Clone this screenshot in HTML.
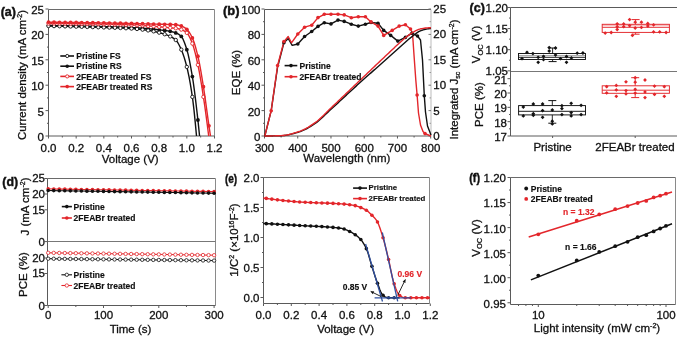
<!DOCTYPE html>
<html><head><meta charset="utf-8"><style>
html,body{margin:0;padding:0;background:#fff;overflow:hidden}
svg{display:block;font-family:"Liberation Sans",sans-serif;will-change:transform}
</style></head><body>
<svg width="677" height="337" viewBox="0 0 677 337">
<rect width="677" height="337" fill="#fff"/>
<line x1="48.5" y1="9.5" x2="214.5" y2="9.5" stroke="#6a6a6a" stroke-width="1"/>
<line x1="214.5" y1="9.5" x2="214.5" y2="136" stroke="#8a8a8a" stroke-width="1"/>
<line x1="48.5" y1="136" x2="214.5" y2="136" stroke="#5a5a5a" stroke-width="1"/>
<line x1="48.5" y1="9.5" x2="48.5" y2="136" stroke="#5a5a5a" stroke-width="1"/>
<text x="0.7" y="16.3" font-size="13.5" text-anchor="start" font-weight="bold" fill="#111" textLength="15.3" lengthAdjust="spacingAndGlyphs" stroke="#111" stroke-width="0.45">(a)</text>
<line x1="45.5" y1="136" x2="48.5" y2="136" stroke="#5a5a5a" stroke-width="1"/>
<text x="44" y="140.9" font-size="11.5" text-anchor="end" fill="#111" stroke="#111" stroke-width="0.3">0</text>
<line x1="45.5" y1="110.6" x2="48.5" y2="110.6" stroke="#5a5a5a" stroke-width="1"/>
<text x="44" y="115.5" font-size="11.5" text-anchor="end" fill="#111" stroke="#111" stroke-width="0.3">5</text>
<line x1="45.5" y1="85.2" x2="48.5" y2="85.2" stroke="#5a5a5a" stroke-width="1"/>
<text x="44" y="90.1" font-size="11.5" text-anchor="end" fill="#111" stroke="#111" stroke-width="0.3">10</text>
<line x1="45.5" y1="59.8" x2="48.5" y2="59.8" stroke="#5a5a5a" stroke-width="1"/>
<text x="44" y="64.7" font-size="11.5" text-anchor="end" fill="#111" stroke="#111" stroke-width="0.3">15</text>
<line x1="45.5" y1="34.4" x2="48.5" y2="34.4" stroke="#5a5a5a" stroke-width="1"/>
<text x="44" y="39.3" font-size="11.5" text-anchor="end" fill="#111" stroke="#111" stroke-width="0.3">20</text>
<line x1="45.5" y1="9" x2="48.5" y2="9" stroke="#5a5a5a" stroke-width="1"/>
<text x="44" y="13.9" font-size="11.5" text-anchor="end" fill="#111" stroke="#111" stroke-width="0.3">25</text>
<line x1="48.5" y1="136" x2="48.5" y2="138.5" stroke="#5a5a5a" stroke-width="1"/>
<text x="48.5" y="151.5" font-size="11.5" text-anchor="middle" fill="#111" stroke="#111" stroke-width="0.3">0.0</text>
<line x1="76.17" y1="136" x2="76.17" y2="138.5" stroke="#5a5a5a" stroke-width="1"/>
<text x="76.17" y="151.5" font-size="11.5" text-anchor="middle" fill="#111" stroke="#111" stroke-width="0.3">0.2</text>
<line x1="103.83" y1="136" x2="103.83" y2="138.5" stroke="#5a5a5a" stroke-width="1"/>
<text x="103.83" y="151.5" font-size="11.5" text-anchor="middle" fill="#111" stroke="#111" stroke-width="0.3">0.4</text>
<line x1="131.5" y1="136" x2="131.5" y2="138.5" stroke="#5a5a5a" stroke-width="1"/>
<text x="131.5" y="151.5" font-size="11.5" text-anchor="middle" fill="#111" stroke="#111" stroke-width="0.3">0.6</text>
<line x1="159.16" y1="136" x2="159.16" y2="138.5" stroke="#5a5a5a" stroke-width="1"/>
<text x="159.16" y="151.5" font-size="11.5" text-anchor="middle" fill="#111" stroke="#111" stroke-width="0.3">0.8</text>
<line x1="186.83" y1="136" x2="186.83" y2="138.5" stroke="#5a5a5a" stroke-width="1"/>
<text x="186.83" y="151.5" font-size="11.5" text-anchor="middle" fill="#111" stroke="#111" stroke-width="0.3">1.0</text>
<line x1="214.5" y1="136" x2="214.5" y2="138.5" stroke="#5a5a5a" stroke-width="1"/>
<text x="214.5" y="151.5" font-size="11.5" text-anchor="middle" fill="#111" stroke="#111" stroke-width="0.3">1.2</text>
<line x1="62.33" y1="136" x2="62.33" y2="137.5" stroke="#5a5a5a" stroke-width="1"/>
<line x1="90" y1="136" x2="90" y2="137.5" stroke="#5a5a5a" stroke-width="1"/>
<line x1="117.67" y1="136" x2="117.67" y2="137.5" stroke="#5a5a5a" stroke-width="1"/>
<line x1="145.33" y1="136" x2="145.33" y2="137.5" stroke="#5a5a5a" stroke-width="1"/>
<line x1="173" y1="136" x2="173" y2="137.5" stroke="#5a5a5a" stroke-width="1"/>
<line x1="200.66" y1="136" x2="200.66" y2="137.5" stroke="#5a5a5a" stroke-width="1"/>
<line x1="47" y1="123.3" x2="48.5" y2="123.3" stroke="#5a5a5a" stroke-width="1"/>
<line x1="47" y1="97.9" x2="48.5" y2="97.9" stroke="#5a5a5a" stroke-width="1"/>
<line x1="47" y1="72.5" x2="48.5" y2="72.5" stroke="#5a5a5a" stroke-width="1"/>
<line x1="47" y1="47.1" x2="48.5" y2="47.1" stroke="#5a5a5a" stroke-width="1"/>
<line x1="47" y1="21.7" x2="48.5" y2="21.7" stroke="#5a5a5a" stroke-width="1"/>
<text x="130.2" y="163.3" font-size="11.5" text-anchor="middle" fill="#111" stroke="#111" stroke-width="0.3">Voltage (V)</text>
<text x="25.5" y="75" font-size="11.5" text-anchor="middle" fill="#111" transform="rotate(-90 25.5 75)" stroke="#111" stroke-width="0.3">Current density (mA cm<tspan dy="-4" font-size="7">-2</tspan><tspan dy="4">)</tspan></text>
<line x1="60.3" y1="56" x2="74" y2="56" stroke="#111" stroke-width="1.6"/>
<circle cx="67.2" cy="56" r="1.6" fill="#fff" stroke="#111" stroke-width="0.9"/>
<text x="76.3" y="59.1" font-size="8.5" text-anchor="start" font-weight="bold" fill="#111" stroke="#111" stroke-width="0.15">Pristine FS</text>
<line x1="60.3" y1="66.2" x2="74" y2="66.2" stroke="#111" stroke-width="1.6"/>
<circle cx="67.2" cy="66.2" r="1.8" fill="#111" stroke="none" stroke-width="0"/>
<text x="76.3" y="69.3" font-size="8.5" text-anchor="start" font-weight="bold" fill="#111" stroke="#111" stroke-width="0.15">Pristine RS</text>
<line x1="60.3" y1="76.4" x2="74" y2="76.4" stroke="#e3262b" stroke-width="1.6"/>
<circle cx="67.2" cy="76.4" r="1.6" fill="#fff" stroke="#e3262b" stroke-width="0.9"/>
<text x="76.3" y="79.5" font-size="8.5" text-anchor="start" font-weight="bold" fill="#111" stroke="#111" stroke-width="0.15">2FEABr treated FS</text>
<line x1="60.3" y1="86.6" x2="74" y2="86.6" stroke="#e3262b" stroke-width="1.6"/>
<circle cx="67.2" cy="86.6" r="1.8" fill="#e3262b" stroke="none" stroke-width="0"/>
<text x="76.3" y="89.7" font-size="8.5" text-anchor="start" font-weight="bold" fill="#111" stroke="#111" stroke-width="0.15">2FEABr treated RS</text>
<polyline points="48.5,25.51 49.77,25.53 51.04,25.54 52.31,25.56 53.58,25.58 54.85,25.59 56.12,25.61 57.39,25.63 58.66,25.65 59.92,25.67 61.19,25.69 62.46,25.71 63.73,25.74 65,25.76 66.27,25.78 67.54,25.8 68.81,25.83 70.08,25.85 71.35,25.88 72.62,25.9 73.89,25.93 75.16,25.95 76.43,25.98 77.7,26 78.97,26.03 80.23,26.06 81.5,26.08 82.77,26.11 84.04,26.14 85.31,26.17 86.58,26.19 87.85,26.22 89.12,26.25 90.39,26.28 91.66,26.31 92.93,26.34 94.2,26.37 95.47,26.4 96.74,26.43 98.01,26.46 99.28,26.49 100.54,26.52 101.81,26.55 103.08,26.58 104.35,26.61 105.62,26.65 106.89,26.68 108.16,26.71 109.43,26.75 110.7,26.79 111.97,26.82 113.24,26.86 114.51,26.9 115.78,26.94 117.05,26.98 118.32,27.02 119.59,27.07 120.85,27.11 122.12,27.16 123.39,27.2 124.66,27.25 125.93,27.3 127.2,27.35 128.47,27.41 129.74,27.46 131.01,27.52 132.28,27.58 133.55,27.64 134.82,27.71 136.09,27.79 137.36,27.87 138.63,27.95 139.9,28.04 141.16,28.14 142.43,28.24 143.7,28.34 144.97,28.44 146.24,28.55 147.51,28.67 148.78,28.78 150.05,28.9 151.32,29.02 152.59,29.15 153.86,29.27 155.13,29.4 156.4,29.54 157.67,29.67 158.94,29.8 160.21,29.94 161.47,30.08 162.74,30.23 164.01,30.39 165.28,30.55 166.55,30.73 167.82,30.93 169.09,31.14 170.36,31.38 171.63,31.64 172.9,31.95 174.17,32.32 175.44,32.75 176.71,33.27 177.98,33.9 179.25,34.69 180.52,35.69 181.79,37.01 183.05,39.19 184.32,42.19 185.59,45.78 186.86,49.74 188.13,54.44 189.4,60.2 190.67,66.8 191.94,74.04 193.21,81.98 194.48,91.2 195.75,101.42 197.02,112.28 198.29,123.55 199.56,136" fill="none" stroke="#111" stroke-width="1.4" stroke-linejoin="round"/>
<circle cx="48.5" cy="25.51" r="1.9" fill="#111" stroke="none" stroke-width="0"/>
<circle cx="54.03" cy="25.58" r="1.9" fill="#111" stroke="none" stroke-width="0"/>
<circle cx="59.57" cy="25.67" r="1.9" fill="#111" stroke="none" stroke-width="0"/>
<circle cx="65.1" cy="25.76" r="1.9" fill="#111" stroke="none" stroke-width="0"/>
<circle cx="70.63" cy="25.86" r="1.9" fill="#111" stroke="none" stroke-width="0"/>
<circle cx="76.17" cy="25.97" r="1.9" fill="#111" stroke="none" stroke-width="0"/>
<circle cx="81.7" cy="26.09" r="1.9" fill="#111" stroke="none" stroke-width="0"/>
<circle cx="87.23" cy="26.21" r="1.9" fill="#111" stroke="none" stroke-width="0"/>
<circle cx="92.77" cy="26.34" r="1.9" fill="#111" stroke="none" stroke-width="0"/>
<circle cx="98.3" cy="26.46" r="1.9" fill="#111" stroke="none" stroke-width="0"/>
<circle cx="103.83" cy="26.6" r="1.9" fill="#111" stroke="none" stroke-width="0"/>
<circle cx="109.37" cy="26.75" r="1.9" fill="#111" stroke="none" stroke-width="0"/>
<circle cx="114.9" cy="26.91" r="1.9" fill="#111" stroke="none" stroke-width="0"/>
<circle cx="120.43" cy="27.09" r="1.9" fill="#111" stroke="none" stroke-width="0"/>
<circle cx="125.96" cy="27.3" r="1.9" fill="#111" stroke="none" stroke-width="0"/>
<circle cx="131.5" cy="27.54" r="1.9" fill="#111" stroke="none" stroke-width="0"/>
<circle cx="137.03" cy="27.85" r="1.9" fill="#111" stroke="none" stroke-width="0"/>
<circle cx="142.56" cy="28.25" r="1.9" fill="#111" stroke="none" stroke-width="0"/>
<circle cx="148.1" cy="28.72" r="1.9" fill="#111" stroke="none" stroke-width="0"/>
<circle cx="153.63" cy="29.25" r="1.9" fill="#111" stroke="none" stroke-width="0"/>
<circle cx="159.16" cy="29.83" r="1.9" fill="#111" stroke="none" stroke-width="0"/>
<circle cx="164.7" cy="30.47" r="1.9" fill="#111" stroke="none" stroke-width="0"/>
<circle cx="170.23" cy="31.35" r="1.9" fill="#111" stroke="none" stroke-width="0"/>
<circle cx="175.76" cy="32.88" r="1.9" fill="#111" stroke="none" stroke-width="0"/>
<circle cx="181.3" cy="36.43" r="1.9" fill="#111" stroke="none" stroke-width="0"/>
<circle cx="186.83" cy="49.64" r="1.9" fill="#111" stroke="none" stroke-width="0"/>
<circle cx="192.36" cy="76.56" r="1.9" fill="#111" stroke="none" stroke-width="0"/>
<circle cx="197.9" cy="120" r="1.9" fill="#111" stroke="none" stroke-width="0"/>
<polyline points="48.5,26.02 49.74,26.04 50.99,26.06 52.23,26.09 53.48,26.11 54.72,26.14 55.96,26.16 57.21,26.19 58.45,26.22 59.69,26.24 60.94,26.27 62.18,26.3 63.43,26.33 64.67,26.36 65.91,26.39 67.16,26.42 68.4,26.45 69.64,26.48 70.89,26.51 72.13,26.54 73.38,26.57 74.62,26.61 75.86,26.64 77.11,26.67 78.35,26.7 79.6,26.74 80.84,26.77 82.08,26.81 83.33,26.84 84.57,26.88 85.81,26.91 87.06,26.95 88.3,26.98 89.55,27.02 90.79,27.06 92.03,27.09 93.28,27.13 94.52,27.16 95.76,27.2 97.01,27.23 98.25,27.27 99.5,27.3 100.74,27.34 101.98,27.37 103.23,27.41 104.47,27.44 105.72,27.48 106.96,27.52 108.2,27.56 109.45,27.6 110.69,27.64 111.93,27.68 113.18,27.72 114.42,27.76 115.67,27.81 116.91,27.86 118.15,27.9 119.4,27.95 120.64,28.01 121.88,28.06 123.13,28.12 124.37,28.18 125.62,28.24 126.86,28.3 128.1,28.37 129.35,28.43 130.59,28.5 131.84,28.58 133.08,28.66 134.32,28.76 135.57,28.86 136.81,28.98 138.05,29.1 139.3,29.24 140.54,29.38 141.79,29.53 143.03,29.69 144.27,29.86 145.52,30.03 146.76,30.21 148,30.4 149.25,30.59 150.49,30.78 151.74,30.99 152.98,31.22 154.22,31.46 155.47,31.73 156.71,32.01 157.96,32.32 159.2,32.64 160.44,32.97 161.69,33.31 162.93,33.68 164.17,34.06 165.42,34.48 166.66,34.92 167.91,35.41 169.15,35.94 170.39,36.51 171.64,37.13 172.88,37.82 174.12,38.64 175.37,39.63 176.61,40.92 177.86,42.74 179.1,44.99 180.34,47.55 181.59,50.3 182.83,53.46 184.08,57.12 185.32,61.26 186.56,65.86 187.81,71.02 189.05,76.95 190.29,83.71 191.54,91.33 192.78,99.93 194.03,110.4 195.27,122.59 196.51,136" fill="none" stroke="#111" stroke-width="1.4" stroke-linejoin="round"/>
<circle cx="48.5" cy="26.02" r="1.7" fill="#fff" stroke="#111" stroke-width="0.9"/>
<circle cx="54.03" cy="26.12" r="1.7" fill="#fff" stroke="#111" stroke-width="0.9"/>
<circle cx="59.57" cy="26.24" r="1.7" fill="#fff" stroke="#111" stroke-width="0.9"/>
<circle cx="65.1" cy="26.37" r="1.7" fill="#fff" stroke="#111" stroke-width="0.9"/>
<circle cx="70.63" cy="26.5" r="1.7" fill="#fff" stroke="#111" stroke-width="0.9"/>
<circle cx="76.17" cy="26.65" r="1.7" fill="#fff" stroke="#111" stroke-width="0.9"/>
<circle cx="81.7" cy="26.8" r="1.7" fill="#fff" stroke="#111" stroke-width="0.9"/>
<circle cx="87.23" cy="26.95" r="1.7" fill="#fff" stroke="#111" stroke-width="0.9"/>
<circle cx="92.77" cy="27.11" r="1.7" fill="#fff" stroke="#111" stroke-width="0.9"/>
<circle cx="98.3" cy="27.27" r="1.7" fill="#fff" stroke="#111" stroke-width="0.9"/>
<circle cx="103.83" cy="27.43" r="1.7" fill="#fff" stroke="#111" stroke-width="0.9"/>
<circle cx="109.37" cy="27.59" r="1.7" fill="#fff" stroke="#111" stroke-width="0.9"/>
<circle cx="114.9" cy="27.78" r="1.7" fill="#fff" stroke="#111" stroke-width="0.9"/>
<circle cx="120.43" cy="28" r="1.7" fill="#fff" stroke="#111" stroke-width="0.9"/>
<circle cx="125.96" cy="28.25" r="1.7" fill="#fff" stroke="#111" stroke-width="0.9"/>
<circle cx="131.5" cy="28.56" r="1.7" fill="#fff" stroke="#111" stroke-width="0.9"/>
<circle cx="137.03" cy="29" r="1.7" fill="#fff" stroke="#111" stroke-width="0.9"/>
<circle cx="142.56" cy="29.63" r="1.7" fill="#fff" stroke="#111" stroke-width="0.9"/>
<circle cx="148.1" cy="30.41" r="1.7" fill="#fff" stroke="#111" stroke-width="0.9"/>
<circle cx="153.63" cy="31.34" r="1.7" fill="#fff" stroke="#111" stroke-width="0.9"/>
<circle cx="159.16" cy="32.63" r="1.7" fill="#fff" stroke="#111" stroke-width="0.9"/>
<circle cx="164.7" cy="34.23" r="1.7" fill="#fff" stroke="#111" stroke-width="0.9"/>
<circle cx="170.23" cy="36.43" r="1.7" fill="#fff" stroke="#111" stroke-width="0.9"/>
<circle cx="175.76" cy="39.99" r="1.7" fill="#fff" stroke="#111" stroke-width="0.9"/>
<circle cx="181.3" cy="49.64" r="1.7" fill="#fff" stroke="#111" stroke-width="0.9"/>
<circle cx="186.83" cy="66.91" r="1.7" fill="#fff" stroke="#111" stroke-width="0.9"/>
<circle cx="192.36" cy="96.88" r="1.7" fill="#fff" stroke="#111" stroke-width="0.9"/>
<polyline points="48.5,23.48 49.85,23.49 51.19,23.5 52.54,23.51 53.88,23.52 55.23,23.53 56.58,23.54 57.92,23.55 59.27,23.57 60.61,23.58 61.96,23.59 63.31,23.61 64.65,23.62 66,23.64 67.35,23.66 68.69,23.67 70.04,23.69 71.38,23.71 72.73,23.72 74.08,23.74 75.42,23.76 76.77,23.78 78.11,23.8 79.46,23.82 80.81,23.84 82.15,23.86 83.5,23.88 84.84,23.9 86.19,23.92 87.54,23.95 88.88,23.97 90.23,23.99 91.58,24.01 92.92,24.03 94.27,24.06 95.61,24.08 96.96,24.11 98.31,24.13 99.65,24.16 101,24.18 102.34,24.21 103.69,24.23 105.04,24.26 106.38,24.29 107.73,24.32 109.07,24.35 110.42,24.38 111.77,24.41 113.11,24.45 114.46,24.48 115.81,24.51 117.15,24.55 118.5,24.59 119.84,24.62 121.19,24.66 122.54,24.7 123.88,24.74 125.23,24.79 126.57,24.83 127.92,24.88 129.27,24.92 130.61,24.97 131.96,25.02 133.3,25.07 134.65,25.13 136,25.2 137.34,25.26 138.69,25.34 140.03,25.41 141.38,25.49 142.73,25.58 144.07,25.67 145.42,25.76 146.77,25.85 148.11,25.94 149.46,26.04 150.8,26.14 152.15,26.24 153.5,26.34 154.84,26.45 156.19,26.55 157.53,26.65 158.88,26.76 160.23,26.87 161.57,26.98 162.92,27.1 164.26,27.23 165.61,27.36 166.96,27.49 168.3,27.62 169.65,27.74 171,27.86 172.34,27.97 173.69,28.08 175.03,28.21 176.38,28.39 177.73,28.64 179.07,28.96 180.42,29.34 181.76,29.79 183.11,30.36 184.46,31.09 185.8,32.02 187.15,33.19 188.49,35.02 189.84,37.56 191.19,40.6 192.53,43.99 193.88,48.13 195.23,53.17 196.57,58.87 197.92,64.98 199.26,71.7 200.61,79.26 201.96,87.44 203.3,96.05 204.65,105.11 205.99,114.83 207.34,125.14 208.69,136" fill="none" stroke="#e3262b" stroke-width="1.4" stroke-linejoin="round"/>
<circle cx="48.5" cy="23.48" r="1.7" fill="#fff" stroke="#e3262b" stroke-width="0.9"/>
<circle cx="54.03" cy="23.52" r="1.7" fill="#fff" stroke="#e3262b" stroke-width="0.9"/>
<circle cx="59.57" cy="23.57" r="1.7" fill="#fff" stroke="#e3262b" stroke-width="0.9"/>
<circle cx="65.1" cy="23.63" r="1.7" fill="#fff" stroke="#e3262b" stroke-width="0.9"/>
<circle cx="70.63" cy="23.7" r="1.7" fill="#fff" stroke="#e3262b" stroke-width="0.9"/>
<circle cx="76.17" cy="23.77" r="1.7" fill="#fff" stroke="#e3262b" stroke-width="0.9"/>
<circle cx="81.7" cy="23.85" r="1.7" fill="#fff" stroke="#e3262b" stroke-width="0.9"/>
<circle cx="87.23" cy="23.94" r="1.7" fill="#fff" stroke="#e3262b" stroke-width="0.9"/>
<circle cx="92.77" cy="24.03" r="1.7" fill="#fff" stroke="#e3262b" stroke-width="0.9"/>
<circle cx="98.3" cy="24.13" r="1.7" fill="#fff" stroke="#e3262b" stroke-width="0.9"/>
<circle cx="103.83" cy="24.24" r="1.7" fill="#fff" stroke="#e3262b" stroke-width="0.9"/>
<circle cx="109.37" cy="24.36" r="1.7" fill="#fff" stroke="#e3262b" stroke-width="0.9"/>
<circle cx="114.9" cy="24.49" r="1.7" fill="#fff" stroke="#e3262b" stroke-width="0.9"/>
<circle cx="120.43" cy="24.64" r="1.7" fill="#fff" stroke="#e3262b" stroke-width="0.9"/>
<circle cx="125.96" cy="24.81" r="1.7" fill="#fff" stroke="#e3262b" stroke-width="0.9"/>
<circle cx="131.5" cy="25" r="1.7" fill="#fff" stroke="#e3262b" stroke-width="0.9"/>
<circle cx="137.03" cy="25.25" r="1.7" fill="#fff" stroke="#e3262b" stroke-width="0.9"/>
<circle cx="142.56" cy="25.57" r="1.7" fill="#fff" stroke="#e3262b" stroke-width="0.9"/>
<circle cx="148.1" cy="25.94" r="1.7" fill="#fff" stroke="#e3262b" stroke-width="0.9"/>
<circle cx="153.63" cy="26.35" r="1.7" fill="#fff" stroke="#e3262b" stroke-width="0.9"/>
<circle cx="159.16" cy="26.78" r="1.7" fill="#fff" stroke="#e3262b" stroke-width="0.9"/>
<circle cx="164.7" cy="27.27" r="1.7" fill="#fff" stroke="#e3262b" stroke-width="0.9"/>
<circle cx="170.23" cy="27.8" r="1.7" fill="#fff" stroke="#e3262b" stroke-width="0.9"/>
<circle cx="175.76" cy="28.3" r="1.7" fill="#fff" stroke="#e3262b" stroke-width="0.9"/>
<circle cx="181.3" cy="29.62" r="1.7" fill="#fff" stroke="#e3262b" stroke-width="0.9"/>
<circle cx="186.83" cy="32.88" r="1.7" fill="#fff" stroke="#e3262b" stroke-width="0.9"/>
<circle cx="192.36" cy="43.54" r="1.7" fill="#fff" stroke="#e3262b" stroke-width="0.9"/>
<circle cx="197.9" cy="64.88" r="1.7" fill="#fff" stroke="#e3262b" stroke-width="0.9"/>
<circle cx="203.43" cy="96.88" r="1.7" fill="#fff" stroke="#e3262b" stroke-width="0.9"/>
<polyline points="48.5,22.21 49.86,22.22 51.22,22.23 52.58,22.25 53.94,22.26 55.31,22.27 56.67,22.29 58.03,22.3 59.39,22.32 60.75,22.33 62.11,22.35 63.47,22.36 64.83,22.38 66.2,22.4 67.56,22.41 68.92,22.43 70.28,22.45 71.64,22.46 73,22.48 74.36,22.5 75.72,22.52 77.09,22.53 78.45,22.55 79.81,22.57 81.17,22.59 82.53,22.61 83.89,22.63 85.25,22.65 86.61,22.67 87.98,22.69 89.34,22.71 90.7,22.73 92.06,22.75 93.42,22.77 94.78,22.79 96.14,22.81 97.5,22.83 98.86,22.85 100.23,22.87 101.59,22.9 102.95,22.92 104.31,22.94 105.67,22.97 107.03,22.99 108.39,23.01 109.75,23.04 111.12,23.06 112.48,23.09 113.84,23.11 115.2,23.14 116.56,23.17 117.92,23.19 119.28,23.22 120.64,23.25 122.01,23.28 123.37,23.3 124.73,23.33 126.09,23.36 127.45,23.39 128.81,23.42 130.17,23.45 131.53,23.48 132.9,23.51 134.26,23.54 135.62,23.58 136.98,23.61 138.34,23.65 139.7,23.69 141.06,23.73 142.42,23.77 143.78,23.81 145.15,23.85 146.51,23.89 147.87,23.93 149.23,23.97 150.59,24.01 151.95,24.05 153.31,24.08 154.67,24.12 156.04,24.16 157.4,24.2 158.76,24.23 160.12,24.26 161.48,24.29 162.84,24.32 164.2,24.35 165.56,24.38 166.93,24.41 168.29,24.44 169.65,24.48 171.01,24.52 172.37,24.57 173.73,24.62 175.09,24.7 176.45,24.82 177.82,25.05 179.18,25.37 180.54,25.77 181.9,26.23 183.26,26.85 184.62,27.65 185.98,28.62 187.34,29.8 188.71,31.44 190.07,33.54 191.43,36.04 192.79,38.91 194.15,42.57 195.51,47.03 196.87,52.11 198.23,57.68 199.59,64.23 200.96,71.74 202.32,79.86 203.68,88.29 205.04,97.47 206.4,107.35 207.76,117.35 209.12,126.93 210.48,136" fill="none" stroke="#e3262b" stroke-width="1.4" stroke-linejoin="round"/>
<circle cx="48.5" cy="22.21" r="1.9" fill="#e3262b" stroke="none" stroke-width="0"/>
<circle cx="54.03" cy="22.26" r="1.9" fill="#e3262b" stroke="none" stroke-width="0"/>
<circle cx="59.57" cy="22.32" r="1.9" fill="#e3262b" stroke="none" stroke-width="0"/>
<circle cx="65.1" cy="22.38" r="1.9" fill="#e3262b" stroke="none" stroke-width="0"/>
<circle cx="70.63" cy="22.45" r="1.9" fill="#e3262b" stroke="none" stroke-width="0"/>
<circle cx="76.17" cy="22.52" r="1.9" fill="#e3262b" stroke="none" stroke-width="0"/>
<circle cx="81.7" cy="22.6" r="1.9" fill="#e3262b" stroke="none" stroke-width="0"/>
<circle cx="87.23" cy="22.68" r="1.9" fill="#e3262b" stroke="none" stroke-width="0"/>
<circle cx="92.77" cy="22.76" r="1.9" fill="#e3262b" stroke="none" stroke-width="0"/>
<circle cx="98.3" cy="22.84" r="1.9" fill="#e3262b" stroke="none" stroke-width="0"/>
<circle cx="103.83" cy="22.94" r="1.9" fill="#e3262b" stroke="none" stroke-width="0"/>
<circle cx="109.37" cy="23.03" r="1.9" fill="#e3262b" stroke="none" stroke-width="0"/>
<circle cx="114.9" cy="23.13" r="1.9" fill="#e3262b" stroke="none" stroke-width="0"/>
<circle cx="120.43" cy="23.24" r="1.9" fill="#e3262b" stroke="none" stroke-width="0"/>
<circle cx="125.96" cy="23.36" r="1.9" fill="#e3262b" stroke="none" stroke-width="0"/>
<circle cx="131.5" cy="23.48" r="1.9" fill="#e3262b" stroke="none" stroke-width="0"/>
<circle cx="137.03" cy="23.61" r="1.9" fill="#e3262b" stroke="none" stroke-width="0"/>
<circle cx="142.56" cy="23.77" r="1.9" fill="#e3262b" stroke="none" stroke-width="0"/>
<circle cx="148.1" cy="23.93" r="1.9" fill="#e3262b" stroke="none" stroke-width="0"/>
<circle cx="153.63" cy="24.09" r="1.9" fill="#e3262b" stroke="none" stroke-width="0"/>
<circle cx="159.16" cy="24.24" r="1.9" fill="#e3262b" stroke="none" stroke-width="0"/>
<circle cx="164.7" cy="24.36" r="1.9" fill="#e3262b" stroke="none" stroke-width="0"/>
<circle cx="170.23" cy="24.49" r="1.9" fill="#e3262b" stroke="none" stroke-width="0"/>
<circle cx="175.76" cy="24.75" r="1.9" fill="#e3262b" stroke="none" stroke-width="0"/>
<circle cx="181.3" cy="26.02" r="1.9" fill="#e3262b" stroke="none" stroke-width="0"/>
<circle cx="186.83" cy="29.32" r="1.9" fill="#e3262b" stroke="none" stroke-width="0"/>
<circle cx="192.36" cy="37.96" r="1.9" fill="#e3262b" stroke="none" stroke-width="0"/>
<circle cx="197.9" cy="56.24" r="1.9" fill="#e3262b" stroke="none" stroke-width="0"/>
<circle cx="203.43" cy="86.72" r="1.9" fill="#e3262b" stroke="none" stroke-width="0"/>
<circle cx="208.96" cy="125.84" r="1.9" fill="#e3262b" stroke="none" stroke-width="0"/>
<line x1="264.5" y1="9.5" x2="431" y2="9.5" stroke="#5a5a5a" stroke-width="1"/>
<line x1="264.5" y1="136" x2="431" y2="136" stroke="#5a5a5a" stroke-width="1"/>
<line x1="264.5" y1="9.5" x2="264.5" y2="136" stroke="#5a5a5a" stroke-width="1"/>
<line x1="431" y1="9.5" x2="431" y2="136" stroke="#bbb" stroke-width="1"/>
<text x="223" y="15.2" font-size="13.5" text-anchor="start" font-weight="bold" fill="#111" textLength="16.5" lengthAdjust="spacingAndGlyphs" stroke="#111" stroke-width="0.45">(b)</text>
<line x1="261.5" y1="136" x2="264.5" y2="136" stroke="#5a5a5a" stroke-width="1"/>
<text x="260.5" y="140.9" font-size="11.5" text-anchor="end" fill="#111" stroke="#111" stroke-width="0.3">0</text>
<line x1="261.5" y1="110.6" x2="264.5" y2="110.6" stroke="#5a5a5a" stroke-width="1"/>
<text x="260.5" y="115.5" font-size="11.5" text-anchor="end" fill="#111" stroke="#111" stroke-width="0.3">20</text>
<line x1="261.5" y1="85.2" x2="264.5" y2="85.2" stroke="#5a5a5a" stroke-width="1"/>
<text x="260.5" y="90.1" font-size="11.5" text-anchor="end" fill="#111" stroke="#111" stroke-width="0.3">40</text>
<line x1="261.5" y1="59.8" x2="264.5" y2="59.8" stroke="#5a5a5a" stroke-width="1"/>
<text x="260.5" y="64.7" font-size="11.5" text-anchor="end" fill="#111" stroke="#111" stroke-width="0.3">60</text>
<line x1="261.5" y1="34.4" x2="264.5" y2="34.4" stroke="#5a5a5a" stroke-width="1"/>
<text x="260.5" y="39.3" font-size="11.5" text-anchor="end" fill="#111" stroke="#111" stroke-width="0.3">80</text>
<line x1="261.5" y1="9" x2="264.5" y2="9" stroke="#5a5a5a" stroke-width="1"/>
<text x="260.5" y="13.9" font-size="11.5" text-anchor="end" fill="#111" stroke="#111" stroke-width="0.3">100</text>
<line x1="263" y1="123.3" x2="264.5" y2="123.3" stroke="#5a5a5a" stroke-width="1"/>
<line x1="263" y1="97.9" x2="264.5" y2="97.9" stroke="#5a5a5a" stroke-width="1"/>
<line x1="263" y1="72.5" x2="264.5" y2="72.5" stroke="#5a5a5a" stroke-width="1"/>
<line x1="263" y1="47.1" x2="264.5" y2="47.1" stroke="#5a5a5a" stroke-width="1"/>
<line x1="263" y1="21.7" x2="264.5" y2="21.7" stroke="#5a5a5a" stroke-width="1"/>
<line x1="428.5" y1="136" x2="431" y2="136" stroke="#777" stroke-width="1"/>
<text x="433.3" y="139.9" font-size="11.5" text-anchor="start" fill="#111" stroke="#111" stroke-width="0.3">0</text>
<line x1="428.5" y1="110.6" x2="431" y2="110.6" stroke="#777" stroke-width="1"/>
<text x="433.3" y="114.5" font-size="11.5" text-anchor="start" fill="#111" stroke="#111" stroke-width="0.3">5</text>
<line x1="428.5" y1="85.2" x2="431" y2="85.2" stroke="#777" stroke-width="1"/>
<text x="433.3" y="89.1" font-size="11.5" text-anchor="start" fill="#111" stroke="#111" stroke-width="0.3">10</text>
<line x1="428.5" y1="59.8" x2="431" y2="59.8" stroke="#777" stroke-width="1"/>
<text x="433.3" y="63.7" font-size="11.5" text-anchor="start" fill="#111" stroke="#111" stroke-width="0.3">15</text>
<line x1="428.5" y1="34.4" x2="431" y2="34.4" stroke="#777" stroke-width="1"/>
<text x="433.3" y="38.3" font-size="11.5" text-anchor="start" fill="#111" stroke="#111" stroke-width="0.3">20</text>
<line x1="428.5" y1="9" x2="431" y2="9" stroke="#777" stroke-width="1"/>
<text x="433.3" y="12.9" font-size="11.5" text-anchor="start" fill="#111" stroke="#111" stroke-width="0.3">25</text>
<line x1="429.5" y1="123.3" x2="431" y2="123.3" stroke="#999" stroke-width="1"/>
<line x1="429.5" y1="97.9" x2="431" y2="97.9" stroke="#999" stroke-width="1"/>
<line x1="429.5" y1="72.5" x2="431" y2="72.5" stroke="#999" stroke-width="1"/>
<line x1="429.5" y1="47.1" x2="431" y2="47.1" stroke="#999" stroke-width="1"/>
<line x1="429.5" y1="21.7" x2="431" y2="21.7" stroke="#999" stroke-width="1"/>
<line x1="264.5" y1="136" x2="264.5" y2="138.5" stroke="#5a5a5a" stroke-width="1"/>
<text x="264.5" y="151.5" font-size="11.5" text-anchor="middle" fill="#111" stroke="#111" stroke-width="0.3">300</text>
<line x1="297.74" y1="136" x2="297.74" y2="138.5" stroke="#5a5a5a" stroke-width="1"/>
<text x="297.74" y="151.5" font-size="11.5" text-anchor="middle" fill="#111" stroke="#111" stroke-width="0.3">400</text>
<line x1="330.98" y1="136" x2="330.98" y2="138.5" stroke="#5a5a5a" stroke-width="1"/>
<text x="330.98" y="151.5" font-size="11.5" text-anchor="middle" fill="#111" stroke="#111" stroke-width="0.3">500</text>
<line x1="364.22" y1="136" x2="364.22" y2="138.5" stroke="#5a5a5a" stroke-width="1"/>
<text x="364.22" y="151.5" font-size="11.5" text-anchor="middle" fill="#111" stroke="#111" stroke-width="0.3">600</text>
<line x1="397.46" y1="136" x2="397.46" y2="138.5" stroke="#5a5a5a" stroke-width="1"/>
<text x="397.46" y="151.5" font-size="11.5" text-anchor="middle" fill="#111" stroke="#111" stroke-width="0.3">700</text>
<line x1="430.7" y1="136" x2="430.7" y2="138.5" stroke="#5a5a5a" stroke-width="1"/>
<text x="430.7" y="151.5" font-size="11.5" text-anchor="middle" fill="#111" stroke="#111" stroke-width="0.3">800</text>
<line x1="281.12" y1="136" x2="281.12" y2="137.5" stroke="#5a5a5a" stroke-width="1"/>
<line x1="314.36" y1="136" x2="314.36" y2="137.5" stroke="#5a5a5a" stroke-width="1"/>
<line x1="347.6" y1="136" x2="347.6" y2="137.5" stroke="#5a5a5a" stroke-width="1"/>
<line x1="380.84" y1="136" x2="380.84" y2="137.5" stroke="#5a5a5a" stroke-width="1"/>
<line x1="414.08" y1="136" x2="414.08" y2="137.5" stroke="#5a5a5a" stroke-width="1"/>
<text x="346.8" y="162.4" font-size="11.5" text-anchor="middle" fill="#111" stroke="#111" stroke-width="0.3">Wavelength (nm)</text>
<text x="240" y="72.5" font-size="11.5" text-anchor="middle" fill="#111" transform="rotate(-90 240 72.5)" stroke="#111" stroke-width="0.3">EQE (%)</text>
<text x="457.5" y="79.5" font-size="11.5" text-anchor="middle" fill="#111" transform="rotate(-90 457.5 79.5)" stroke="#111" stroke-width="0.3">Integrated J<tspan dy="2" font-size="7">sc</tspan><tspan dy="-2"> (mA cm</tspan><tspan dy="-4" font-size="7">-2</tspan><tspan dy="4">)</tspan></text>
<polyline points="264.8,136 271.2,110.7 277.6,67 283.9,42.8 288.2,38.5 292.2,45.4 297.8,44 304.6,36.5 311.7,31.5 318,26.4 324.3,22.7 331,23.9 338,20.1 344.2,21.4 351.3,24.2 358.3,26.1 365.4,24.2 371,22.5 378,23.3 383.7,30.4 390.7,35.4 397.8,41.1 405.4,37.4 411.9,33.2 417.5,36 420.5,40 422.5,60 424.3,95.7 425.5,112 427.5,126 431,135" fill="none" stroke="#111" stroke-width="1.4" stroke-linejoin="round"/>
<polyline points="264.8,136 271.2,110.7 277.6,65.5 283.9,41.6 288.2,36.5 291.5,42.8 297.8,34 304.6,27.2 311.7,25.2 318,17.6 324.3,14.3 331,14.3 338,14.3 344.2,14.9 351.3,17.7 358.3,16.8 365.4,16.8 371,21.9 378,26.1 383.7,35.4 392.2,30.4 399.2,26.1 405.4,24.7 410.5,29 412.5,33 414,55 415.8,80 417.1,95 418.5,113 420.5,125 423,131.5 425,133.6 431,136" fill="none" stroke="#e3262b" stroke-width="1.4" stroke-linejoin="round"/>
<circle cx="283.9" cy="42.8" r="1.8" fill="#111" stroke="none" stroke-width="0"/>
<circle cx="297.8" cy="44" r="1.8" fill="#111" stroke="none" stroke-width="0"/>
<circle cx="304.6" cy="36.5" r="1.8" fill="#111" stroke="none" stroke-width="0"/>
<circle cx="311.7" cy="31.5" r="1.8" fill="#111" stroke="none" stroke-width="0"/>
<circle cx="318" cy="26.4" r="1.8" fill="#111" stroke="none" stroke-width="0"/>
<circle cx="324.3" cy="22.7" r="1.8" fill="#111" stroke="none" stroke-width="0"/>
<circle cx="331" cy="23.9" r="1.8" fill="#111" stroke="none" stroke-width="0"/>
<circle cx="338" cy="20.1" r="1.8" fill="#111" stroke="none" stroke-width="0"/>
<circle cx="344.2" cy="21.4" r="1.8" fill="#111" stroke="none" stroke-width="0"/>
<circle cx="351.3" cy="24.2" r="1.8" fill="#111" stroke="none" stroke-width="0"/>
<circle cx="358.3" cy="26.1" r="1.8" fill="#111" stroke="none" stroke-width="0"/>
<circle cx="365.4" cy="24.2" r="1.8" fill="#111" stroke="none" stroke-width="0"/>
<circle cx="371" cy="22.5" r="1.8" fill="#111" stroke="none" stroke-width="0"/>
<circle cx="378" cy="23.3" r="1.8" fill="#111" stroke="none" stroke-width="0"/>
<circle cx="383.7" cy="30.4" r="1.8" fill="#111" stroke="none" stroke-width="0"/>
<circle cx="390.7" cy="35.4" r="1.8" fill="#111" stroke="none" stroke-width="0"/>
<circle cx="397.8" cy="41.1" r="1.8" fill="#111" stroke="none" stroke-width="0"/>
<circle cx="405.4" cy="37.4" r="1.8" fill="#111" stroke="none" stroke-width="0"/>
<circle cx="411.9" cy="33.2" r="1.8" fill="#111" stroke="none" stroke-width="0"/>
<circle cx="417.5" cy="36" r="1.8" fill="#111" stroke="none" stroke-width="0"/>
<circle cx="424.3" cy="95.7" r="1.8" fill="#111" stroke="none" stroke-width="0"/>
<circle cx="271.2" cy="110.7" r="1.8" fill="#e3262b" stroke="none" stroke-width="0"/>
<circle cx="277.6" cy="65.5" r="1.8" fill="#e3262b" stroke="none" stroke-width="0"/>
<circle cx="283.9" cy="41.6" r="1.8" fill="#e3262b" stroke="none" stroke-width="0"/>
<circle cx="297.8" cy="34" r="1.8" fill="#e3262b" stroke="none" stroke-width="0"/>
<circle cx="304.6" cy="27.2" r="1.8" fill="#e3262b" stroke="none" stroke-width="0"/>
<circle cx="311.7" cy="25.2" r="1.8" fill="#e3262b" stroke="none" stroke-width="0"/>
<circle cx="318" cy="17.6" r="1.8" fill="#e3262b" stroke="none" stroke-width="0"/>
<circle cx="324.3" cy="14.3" r="1.8" fill="#e3262b" stroke="none" stroke-width="0"/>
<circle cx="331" cy="14.3" r="1.8" fill="#e3262b" stroke="none" stroke-width="0"/>
<circle cx="338" cy="14.3" r="1.8" fill="#e3262b" stroke="none" stroke-width="0"/>
<circle cx="344.2" cy="14.9" r="1.8" fill="#e3262b" stroke="none" stroke-width="0"/>
<circle cx="351.3" cy="17.7" r="1.8" fill="#e3262b" stroke="none" stroke-width="0"/>
<circle cx="358.3" cy="16.8" r="1.8" fill="#e3262b" stroke="none" stroke-width="0"/>
<circle cx="365.4" cy="16.8" r="1.8" fill="#e3262b" stroke="none" stroke-width="0"/>
<circle cx="371" cy="21.9" r="1.8" fill="#e3262b" stroke="none" stroke-width="0"/>
<circle cx="378" cy="26.1" r="1.8" fill="#e3262b" stroke="none" stroke-width="0"/>
<circle cx="383.7" cy="35.4" r="1.8" fill="#e3262b" stroke="none" stroke-width="0"/>
<circle cx="392.2" cy="30.4" r="1.8" fill="#e3262b" stroke="none" stroke-width="0"/>
<circle cx="399.2" cy="26.1" r="1.8" fill="#e3262b" stroke="none" stroke-width="0"/>
<circle cx="405.4" cy="24.7" r="1.8" fill="#e3262b" stroke="none" stroke-width="0"/>
<circle cx="410.5" cy="29" r="1.8" fill="#e3262b" stroke="none" stroke-width="0"/>
<circle cx="417.1" cy="95" r="1.8" fill="#e3262b" stroke="none" stroke-width="0"/>
<circle cx="425" cy="133.6" r="1.8" fill="#e3262b" stroke="none" stroke-width="0"/>
<polyline points="264.5,136 265.62,136 266.73,135.99 267.85,135.99 268.97,135.98 270.09,135.96 271.2,135.95 272.32,135.93 273.44,135.91 274.56,135.89 275.67,135.86 276.79,135.83 277.91,135.8 279.03,135.77 280.14,135.74 281.26,135.7 282.38,135.65 283.5,135.57 284.61,135.45 285.73,135.3 286.85,135.12 287.97,134.92 289.08,134.69 290.2,134.43 291.32,134.16 292.44,133.87 293.55,133.56 294.67,133.24 295.79,132.91 296.91,132.57 298.02,132.23 299.14,131.87 300.26,131.52 301.38,131.12 302.49,130.69 303.61,130.2 304.73,129.68 305.85,129.12 306.96,128.52 308.08,127.89 309.2,127.23 310.32,126.55 311.43,125.85 312.55,125.12 313.67,124.38 314.79,123.63 315.9,122.87 317.02,122.07 318.14,121.21 319.26,120.28 320.37,119.31 321.49,118.3 322.61,117.26 323.72,116.2 324.84,115.12 325.96,114.03 327.08,112.95 328.19,111.88 329.31,110.83 330.43,109.81 331.55,108.79 332.66,107.77 333.78,106.75 334.9,105.72 336.02,104.69 337.13,103.66 338.25,102.63 339.37,101.6 340.49,100.56 341.6,99.53 342.72,98.49 343.84,97.46 344.96,96.42 346.07,95.38 347.19,94.35 348.31,93.31 349.43,92.28 350.54,91.25 351.66,90.22 352.78,89.19 353.9,88.16 355.01,87.14 356.13,86.11 357.25,85.1 358.37,84.08 359.48,83.07 360.6,82.06 361.72,81.05 362.84,80.05 363.95,79.05 365.07,78.05 366.19,77.06 367.31,76.06 368.42,75.07 369.54,74.08 370.66,73.1 371.78,72.11 372.89,71.12 374.01,70.14 375.13,69.16 376.24,68.17 377.36,67.19 378.48,66.2 379.6,65.22 380.71,64.23 381.83,63.25 382.95,62.26 384.07,61.27 385.18,60.29 386.3,59.29 387.42,58.3 388.54,57.31 389.65,56.31 390.77,55.31 391.89,54.3 393.01,53.29 394.12,52.28 395.24,51.27 396.36,50.26 397.48,49.25 398.59,48.25 399.71,47.26 400.83,46.26 401.95,45.26 403.06,44.25 404.18,43.24 405.3,42.24 406.42,41.25 407.53,40.27 408.65,39.32 409.77,38.4 410.89,37.51 412,36.63 413.12,35.72 414.24,34.82 415.36,33.94 416.47,33.11 417.59,32.35 418.71,31.68 419.83,31.12 420.94,30.66 422.06,30.25 423.18,29.88 424.3,29.57 425.41,29.31 426.53,29.11 427.65,28.93 428.77,28.78 429.88,28.67 431,28.6" fill="none" stroke="#111" stroke-width="1.4" stroke-linejoin="round"/>
<polyline points="264.5,136 265.62,136 266.73,135.99 267.85,135.98 268.97,135.97 270.09,135.95 271.2,135.93 272.32,135.9 273.44,135.88 274.56,135.85 275.67,135.81 276.79,135.78 277.91,135.74 279.03,135.7 280.14,135.65 281.26,135.61 282.38,135.54 283.5,135.45 284.61,135.31 285.73,135.15 286.85,134.96 287.97,134.73 289.08,134.49 290.2,134.22 291.32,133.93 292.44,133.62 293.55,133.29 294.67,132.95 295.79,132.6 296.91,132.23 298.02,131.87 299.14,131.49 300.26,131.11 301.38,130.7 302.49,130.23 303.61,129.72 304.73,129.17 305.85,128.59 306.96,127.96 308.08,127.31 309.2,126.62 310.32,125.91 311.43,125.18 312.55,124.42 313.67,123.65 314.79,122.86 315.9,122.07 317.02,121.24 318.14,120.34 319.26,119.38 320.37,118.37 321.49,117.32 322.61,116.23 323.72,115.13 324.84,114.01 325.96,112.88 327.08,111.75 328.19,110.64 329.31,109.56 330.43,108.49 331.55,107.44 332.66,106.38 333.78,105.32 334.9,104.26 336.02,103.2 337.13,102.14 338.25,101.07 339.37,100.01 340.49,98.94 341.6,97.88 342.72,96.81 343.84,95.74 344.96,94.67 346.07,93.6 347.19,92.54 348.31,91.47 349.43,90.4 350.54,89.33 351.66,88.26 352.78,87.19 353.9,86.12 355.01,85.05 356.13,83.99 357.25,82.92 358.37,81.86 359.48,80.79 360.6,79.73 361.72,78.66 362.84,77.6 363.95,76.53 365.07,75.47 366.19,74.4 367.31,73.34 368.42,72.27 369.54,71.21 370.66,70.14 371.78,69.07 372.89,68.01 374.01,66.94 375.13,65.88 376.24,64.81 377.36,63.75 378.48,62.69 379.6,61.63 380.71,60.57 381.83,59.51 382.95,58.45 384.07,57.39 385.18,56.33 386.3,55.28 387.42,54.23 388.54,53.17 389.65,52.12 390.77,51.07 391.89,50.02 393.01,48.95 394.12,47.89 395.24,46.84 396.36,45.79 397.48,44.76 398.59,43.74 399.71,42.75 400.83,41.77 401.95,40.78 403.06,39.79 404.18,38.8 405.3,37.83 406.42,36.89 407.53,35.99 408.65,35.13 409.77,34.34 410.89,33.61 412,32.92 413.12,32.24 414.24,31.58 415.36,30.95 416.47,30.37 417.59,29.86 418.71,29.42 419.83,29.07 420.94,28.8 422.06,28.57 423.18,28.36 424.3,28.19 425.41,28.06 426.53,27.95 427.65,27.86 428.77,27.78 429.88,27.73 431,27.7" fill="none" stroke="#e3262b" stroke-width="1.4" stroke-linejoin="round"/>
<line x1="284.6" y1="65.6" x2="297.3" y2="65.6" stroke="#111" stroke-width="1.6"/>
<circle cx="291" cy="65.6" r="1.8" fill="#111" stroke="none" stroke-width="0"/>
<text x="299.5" y="68.7" font-size="8.5" text-anchor="start" font-weight="bold" fill="#111" stroke="#111" stroke-width="0.15">Pristine</text>
<line x1="284.6" y1="76.7" x2="297.3" y2="76.7" stroke="#e3262b" stroke-width="1.6"/>
<circle cx="291" cy="76.7" r="1.8" fill="#e3262b" stroke="none" stroke-width="0"/>
<text x="299.5" y="79.8" font-size="8.5" text-anchor="start" font-weight="bold" fill="#111" stroke="#111" stroke-width="0.15">2FEABr treated</text>
<line x1="510.5" y1="7.5" x2="690" y2="7.5" stroke="#5a5a5a" stroke-width="1"/>
<line x1="510.5" y1="71.5" x2="690" y2="71.5" stroke="#777" stroke-width="1"/>
<line x1="510.5" y1="136" x2="690" y2="136" stroke="#5a5a5a" stroke-width="1"/>
<line x1="510.5" y1="7.5" x2="510.5" y2="136" stroke="#5a5a5a" stroke-width="1"/>
<text x="469.6" y="11.5" font-size="13.5" text-anchor="start" font-weight="bold" fill="#111" textLength="15.3" lengthAdjust="spacingAndGlyphs" stroke="#111" stroke-width="0.45">(c)</text>
<line x1="507.5" y1="7.5" x2="510.5" y2="7.5" stroke="#5a5a5a" stroke-width="1"/>
<text x="508" y="12.1" font-size="11.5" text-anchor="end" fill="#111" stroke="#111" stroke-width="0.3">1.20</text>
<line x1="507.5" y1="28.6" x2="510.5" y2="28.6" stroke="#5a5a5a" stroke-width="1"/>
<text x="508" y="33.2" font-size="11.5" text-anchor="end" fill="#111" stroke="#111" stroke-width="0.3">1.15</text>
<line x1="507.5" y1="49.7" x2="510.5" y2="49.7" stroke="#5a5a5a" stroke-width="1"/>
<text x="508" y="54.3" font-size="11.5" text-anchor="end" fill="#111" stroke="#111" stroke-width="0.3">1.10</text>
<line x1="507.5" y1="70.8" x2="510.5" y2="70.8" stroke="#5a5a5a" stroke-width="1"/>
<text x="508" y="75.4" font-size="11.5" text-anchor="end" fill="#111" stroke="#111" stroke-width="0.3">1.05</text>
<line x1="509" y1="18.05" x2="510.5" y2="18.05" stroke="#5a5a5a" stroke-width="1"/>
<line x1="509" y1="39.15" x2="510.5" y2="39.15" stroke="#5a5a5a" stroke-width="1"/>
<line x1="509" y1="60.25" x2="510.5" y2="60.25" stroke="#5a5a5a" stroke-width="1"/>
<line x1="507.5" y1="78.68" x2="510.5" y2="78.68" stroke="#5a5a5a" stroke-width="1"/>
<text x="507" y="83.58" font-size="11.5" text-anchor="end" fill="#111" stroke="#111" stroke-width="0.3">21</text>
<line x1="507.5" y1="93.01" x2="510.5" y2="93.01" stroke="#5a5a5a" stroke-width="1"/>
<text x="507" y="97.91" font-size="11.5" text-anchor="end" fill="#111" stroke="#111" stroke-width="0.3">20</text>
<line x1="507.5" y1="107.34" x2="510.5" y2="107.34" stroke="#5a5a5a" stroke-width="1"/>
<text x="507" y="112.24" font-size="11.5" text-anchor="end" fill="#111" stroke="#111" stroke-width="0.3">19</text>
<line x1="507.5" y1="121.67" x2="510.5" y2="121.67" stroke="#5a5a5a" stroke-width="1"/>
<text x="507" y="126.57" font-size="11.5" text-anchor="end" fill="#111" stroke="#111" stroke-width="0.3">18</text>
<line x1="507.5" y1="136" x2="510.5" y2="136" stroke="#5a5a5a" stroke-width="1"/>
<text x="507" y="140.9" font-size="11.5" text-anchor="end" fill="#111" stroke="#111" stroke-width="0.3">17</text>
<line x1="509" y1="128.84" x2="510.5" y2="128.84" stroke="#5a5a5a" stroke-width="1"/>
<line x1="509" y1="114.5" x2="510.5" y2="114.5" stroke="#5a5a5a" stroke-width="1"/>
<line x1="509" y1="100.17" x2="510.5" y2="100.17" stroke="#5a5a5a" stroke-width="1"/>
<line x1="509" y1="85.84" x2="510.5" y2="85.84" stroke="#5a5a5a" stroke-width="1"/>
<text x="552.6" y="150.7" font-size="11.5" text-anchor="middle" fill="#111" stroke="#111" stroke-width="0.3">Pristine</text>
<line x1="552.6" y1="136" x2="552.6" y2="138" stroke="#5a5a5a" stroke-width="1"/>
<line x1="635.2" y1="136" x2="635.2" y2="138" stroke="#5a5a5a" stroke-width="1"/>
<text x="635" y="150.7" font-size="11.5" text-anchor="middle" fill="#111" stroke="#111" stroke-width="0.3">2FEABr treated</text>
<text x="480" y="44.5" font-size="11.5" text-anchor="middle" fill="#111" transform="rotate(-90 480 44.5)" stroke="#111" stroke-width="0.3">V<tspan dy="2.5" font-size="7.5">OC</tspan><tspan dy="-2.5"> (V)</tspan></text>
<text x="483" y="104.5" font-size="11.5" text-anchor="middle" fill="#111" transform="rotate(-90 483 104.5)" stroke="#111" stroke-width="0.3">PCE (%)</text>
<rect x="518.5" y="53.5" width="67" height="6" fill="none" stroke="#111" stroke-width="0.95"/>
<line x1="518.5" y1="55.5" x2="585.5" y2="55.5" stroke="#111" stroke-width="0.8" stroke-opacity="0.45"/>
<line x1="518.5" y1="57.3" x2="585.5" y2="57.3" stroke="#111" stroke-width="0.95"/>
<line x1="552.6" y1="48" x2="552.6" y2="53.5" stroke="#111" stroke-width="0.9"/>
<line x1="552.6" y1="59.5" x2="552.6" y2="61.6" stroke="#111" stroke-width="0.9"/>
<line x1="548.6" y1="48" x2="556.6" y2="48" stroke="#111" stroke-width="1"/>
<line x1="548.6" y1="61.6" x2="556.6" y2="61.6" stroke="#111" stroke-width="1"/>
<path d="M522 56.8L523.9 58.7L522 60.6L520.1 58.7Z" fill="#111"/>
<path d="M527 50.4L528.9 52.3L527 54.2L525.1 52.3Z" fill="#111"/>
<path d="M532.9 51.7L534.8 53.6L532.9 55.5L531 53.6Z" fill="#111"/>
<path d="M538.2 55.4L540.1 57.3L538.2 59.2L536.3 57.3Z" fill="#111"/>
<path d="M538.2 60.4L540.1 62.3L538.2 64.2L536.3 62.3Z" fill="#111"/>
<path d="M543.5 54.4L545.4 56.3L543.5 58.2L541.6 56.3Z" fill="#111"/>
<path d="M543.5 57.7L545.4 59.6L543.5 61.5L541.6 59.6Z" fill="#111"/>
<path d="M549.2 45.7L551.1 47.6L549.2 49.5L547.3 47.6Z" fill="#111"/>
<path d="M549.2 49.1L551.1 51L549.2 52.9L547.3 51Z" fill="#111"/>
<path d="M555.5 46.1L557.4 48L555.5 49.9L553.6 48Z" fill="#111"/>
<path d="M555.5 53.1L557.4 55L555.5 56.9L553.6 55Z" fill="#111"/>
<path d="M560.5 56.8L562.4 58.7L560.5 60.6L558.6 58.7Z" fill="#111"/>
<path d="M566.5 54.6L568.4 56.5L566.5 58.4L564.6 56.5Z" fill="#111"/>
<path d="M566.5 60.4L568.4 62.3L566.5 64.2L564.6 62.3Z" fill="#111"/>
<path d="M571.4 56L573.3 57.9L571.4 59.8L569.5 57.9Z" fill="#111"/>
<path d="M577.2 51.3L579.1 53.2L577.2 55.1L575.3 53.2Z" fill="#111"/>
<path d="M582.9 51.1L584.8 53L582.9 54.9L581 53Z" fill="#111"/>
<rect x="602.2" y="24.3" width="67.2" height="8.1" fill="none" stroke="#e3262b" stroke-width="0.95"/>
<line x1="602.2" y1="25.3" x2="669.4" y2="25.3" stroke="#e3262b" stroke-width="0.8" stroke-opacity="0.45"/>
<line x1="602.2" y1="27.3" x2="669.4" y2="27.3" stroke="#e3262b" stroke-width="0.95"/>
<line x1="635.6" y1="19.6" x2="635.6" y2="24.3" stroke="#e3262b" stroke-width="0.9"/>
<line x1="635.6" y1="32.4" x2="635.6" y2="34.2" stroke="#e3262b" stroke-width="0.9"/>
<line x1="631.6" y1="19.6" x2="639.6" y2="19.6" stroke="#e3262b" stroke-width="1"/>
<line x1="631.6" y1="34.2" x2="639.6" y2="34.2" stroke="#e3262b" stroke-width="1"/>
<path d="M605.2 31.2L607.1 33.1L605.2 35L603.3 33.1Z" fill="#e3262b"/>
<path d="M611.2 30.6L613.1 32.5L611.2 34.4L609.3 32.5Z" fill="#e3262b"/>
<path d="M617.2 21.9L619.1 23.8L617.2 25.7L615.3 23.8Z" fill="#e3262b"/>
<path d="M617.2 24.8L619.1 26.7L617.2 28.6L615.3 26.7Z" fill="#e3262b"/>
<path d="M617.2 27.6L619.1 29.5L617.2 31.4L615.3 29.5Z" fill="#e3262b"/>
<path d="M623.7 22L625.6 23.9L623.7 25.8L621.8 23.9Z" fill="#e3262b"/>
<path d="M623.7 24.8L625.6 26.7L623.7 28.6L621.8 26.7Z" fill="#e3262b"/>
<path d="M629.6 17.7L631.5 19.6L629.6 21.5L627.7 19.6Z" fill="#e3262b"/>
<path d="M629.6 23.8L631.5 25.7L629.6 27.6L627.7 25.7Z" fill="#e3262b"/>
<path d="M632.4 33.5L634.3 35.4L632.4 37.3L630.5 35.4Z" fill="#e3262b"/>
<path d="M635.2 20.3L637.1 22.2L635.2 24.1L633.3 22.2Z" fill="#e3262b"/>
<path d="M635.2 26.1L637.1 28L635.2 29.9L633.3 28Z" fill="#e3262b"/>
<path d="M641.4 20.3L643.3 22.2L641.4 24.1L639.5 22.2Z" fill="#e3262b"/>
<path d="M641.4 25.5L643.3 27.4L641.4 29.3L639.5 27.4Z" fill="#e3262b"/>
<path d="M647.8 21.6L649.7 23.5L647.8 25.4L645.9 23.5Z" fill="#e3262b"/>
<path d="M647.8 24.1L649.7 26L647.8 27.9L645.9 26Z" fill="#e3262b"/>
<path d="M653.6 22.9L655.5 24.8L653.6 26.7L651.7 24.8Z" fill="#e3262b"/>
<path d="M653.6 30L655.5 31.9L653.6 33.8L651.7 31.9Z" fill="#e3262b"/>
<path d="M659.7 30L661.6 31.9L659.7 33.8L657.8 31.9Z" fill="#e3262b"/>
<path d="M666.1 30.6L668 32.5L666.1 34.4L664.2 32.5Z" fill="#e3262b"/>
<rect x="518.6" y="105.6" width="66.9" height="9.3" fill="none" stroke="#111" stroke-width="0.95"/>
<line x1="518.6" y1="111.3" x2="585.5" y2="111.3" stroke="#111" stroke-width="0.95"/>
<line x1="552.3" y1="100.6" x2="552.3" y2="105.6" stroke="#111" stroke-width="0.9"/>
<line x1="552.3" y1="114.9" x2="552.3" y2="123.2" stroke="#111" stroke-width="0.9"/>
<line x1="548.3" y1="100.6" x2="556.3" y2="100.6" stroke="#111" stroke-width="1"/>
<line x1="548.3" y1="123.2" x2="556.3" y2="123.2" stroke="#111" stroke-width="1"/>
<path d="M523.3 105.1L525.2 107L523.3 108.9L521.4 107Z" fill="#111"/>
<path d="M523.3 114L525.2 115.9L523.3 117.8L521.4 115.9Z" fill="#111"/>
<path d="M533.3 102.1L535.2 104L533.3 105.9L531.4 104Z" fill="#111"/>
<path d="M533.3 111.8L535.2 113.7L533.3 115.6L531.4 113.7Z" fill="#111"/>
<path d="M533.3 113.4L535.2 115.3L533.3 117.2L531.4 115.3Z" fill="#111"/>
<path d="M542.6 102.1L544.5 104L542.6 105.9L540.7 104Z" fill="#111"/>
<path d="M542.6 108.7L544.5 110.6L542.6 112.5L540.7 110.6Z" fill="#111"/>
<path d="M542.6 115.4L544.5 117.3L542.6 119.2L540.7 117.3Z" fill="#111"/>
<path d="M552.3 108.1L554.2 110L552.3 111.9L550.4 110Z" fill="#111"/>
<path d="M552.3 119.3L554.2 121.2L552.3 123.1L550.4 121.2Z" fill="#111"/>
<path d="M552.3 122L554.2 123.9L552.3 125.8L550.4 123.9Z" fill="#111"/>
<path d="M561.9 103.8L563.8 105.7L561.9 107.6L560 105.7Z" fill="#111"/>
<path d="M561.9 106.7L563.8 108.6L561.9 110.5L560 108.6Z" fill="#111"/>
<path d="M561.9 112.7L563.8 114.6L561.9 116.5L560 114.6Z" fill="#111"/>
<path d="M571.2 101.4L573.1 103.3L571.2 105.2L569.3 103.3Z" fill="#111"/>
<path d="M571.2 110.7L573.1 112.6L571.2 114.5L569.3 112.6Z" fill="#111"/>
<path d="M571.2 114L573.1 115.9L571.2 117.8L569.3 115.9Z" fill="#111"/>
<path d="M581.1 103.4L583 105.3L581.1 107.2L579.2 105.3Z" fill="#111"/>
<path d="M581.1 112.7L583 114.6L581.1 116.5L579.2 114.6Z" fill="#111"/>
<rect x="602.2" y="85.8" width="67.2" height="7.5" fill="none" stroke="#e3262b" stroke-width="0.95"/>
<line x1="602.2" y1="90.2" x2="669.4" y2="90.2" stroke="#e3262b" stroke-width="0.95"/>
<line x1="635.2" y1="77.7" x2="635.2" y2="85.8" stroke="#e3262b" stroke-width="0.9"/>
<line x1="635.2" y1="93.3" x2="635.2" y2="97.6" stroke="#e3262b" stroke-width="0.9"/>
<line x1="631.2" y1="77.7" x2="639.2" y2="77.7" stroke="#e3262b" stroke-width="1"/>
<line x1="631.2" y1="97.6" x2="639.2" y2="97.6" stroke="#e3262b" stroke-width="1"/>
<path d="M606.7 84.8L608.6 86.7L606.7 88.6L604.8 86.7Z" fill="#e3262b"/>
<path d="M606.7 91L608.6 92.9L606.7 94.8L604.8 92.9Z" fill="#e3262b"/>
<path d="M616.3 83.5L618.2 85.4L616.3 87.3L614.4 85.4Z" fill="#e3262b"/>
<path d="M616.3 88L618.2 89.9L616.3 91.8L614.4 89.9Z" fill="#e3262b"/>
<path d="M616.3 94.4L618.2 96.3L616.3 98.2L614.4 96.3Z" fill="#e3262b"/>
<path d="M626 79.9L627.9 81.8L626 83.7L624.1 81.8Z" fill="#e3262b"/>
<path d="M626 88.7L627.9 90.6L626 92.5L624.1 90.6Z" fill="#e3262b"/>
<path d="M626 91.9L627.9 93.8L626 95.7L624.1 93.8Z" fill="#e3262b"/>
<path d="M635.2 75.8L637.1 77.7L635.2 79.6L633.3 77.7Z" fill="#e3262b"/>
<path d="M635.2 80.3L637.1 82.2L635.2 84.1L633.3 82.2Z" fill="#e3262b"/>
<path d="M635.2 87.4L637.1 89.3L635.2 91.2L633.3 89.3Z" fill="#e3262b"/>
<path d="M635.2 91.2L637.1 93.1L635.2 95L633.3 93.1Z" fill="#e3262b"/>
<path d="M645 78.1L646.9 80L645 81.9L643.1 80Z" fill="#e3262b"/>
<path d="M645 90L646.9 91.9L645 93.8L643.1 91.9Z" fill="#e3262b"/>
<path d="M645 95.7L646.9 97.6L645 99.5L643.1 97.6Z" fill="#e3262b"/>
<path d="M654.5 84.2L656.4 86.1L654.5 88L652.6 86.1Z" fill="#e3262b"/>
<path d="M654.5 92.5L656.4 94.4L654.5 96.3L652.6 94.4Z" fill="#e3262b"/>
<path d="M664.3 84.8L666.2 86.7L664.3 88.6L662.4 86.7Z" fill="#e3262b"/>
<path d="M664.3 94.4L666.2 96.3L664.3 98.2L662.4 96.3Z" fill="#e3262b"/>
<line x1="47.5" y1="178.5" x2="215.5" y2="178.5" stroke="#6a6a6a" stroke-width="1"/>
<line x1="215.5" y1="178.5" x2="215.5" y2="305.5" stroke="#8a8a8a" stroke-width="1"/>
<line x1="47.5" y1="305.5" x2="215.5" y2="305.5" stroke="#5a5a5a" stroke-width="1"/>
<line x1="47.5" y1="178.5" x2="47.5" y2="305.5" stroke="#5a5a5a" stroke-width="1"/>
<line x1="47.5" y1="241.5" x2="215.5" y2="241.5" stroke="#777" stroke-width="1"/>
<text x="2.3" y="186.3" font-size="13.5" text-anchor="start" font-weight="bold" fill="#111" textLength="15.8" lengthAdjust="spacingAndGlyphs" stroke="#111" stroke-width="0.45">(d)</text>
<line x1="44.5" y1="178.5" x2="47.5" y2="178.5" stroke="#5a5a5a" stroke-width="1"/>
<text x="45" y="182.4" font-size="11.5" text-anchor="end" fill="#111" stroke="#111" stroke-width="0.3">25</text>
<line x1="44.5" y1="194" x2="47.5" y2="194" stroke="#5a5a5a" stroke-width="1"/>
<text x="45" y="197.9" font-size="11.5" text-anchor="end" fill="#111" stroke="#111" stroke-width="0.3">20</text>
<line x1="44.5" y1="209.8" x2="47.5" y2="209.8" stroke="#5a5a5a" stroke-width="1"/>
<text x="45" y="213.7" font-size="11.5" text-anchor="end" fill="#111" stroke="#111" stroke-width="0.3">15</text>
<line x1="44.5" y1="241.6" x2="47.5" y2="241.6" stroke="#5a5a5a" stroke-width="1"/>
<text x="45" y="245.5" font-size="11.5" text-anchor="end" fill="#111" stroke="#111" stroke-width="0.3">0</text>
<line x1="44.5" y1="258" x2="47.5" y2="258" stroke="#5a5a5a" stroke-width="1"/>
<text x="45" y="261.9" font-size="11.5" text-anchor="end" fill="#111" stroke="#111" stroke-width="0.3">20</text>
<line x1="44.5" y1="273.5" x2="47.5" y2="273.5" stroke="#5a5a5a" stroke-width="1"/>
<text x="45" y="277.4" font-size="11.5" text-anchor="end" fill="#111" stroke="#111" stroke-width="0.3">15</text>
<line x1="44.5" y1="305.5" x2="47.5" y2="305.5" stroke="#5a5a5a" stroke-width="1"/>
<text x="45" y="310.1" font-size="11.5" text-anchor="end" fill="#111" stroke="#111" stroke-width="0.3">0</text>
<line x1="48.2" y1="305.5" x2="48.2" y2="308" stroke="#5a5a5a" stroke-width="1"/>
<text x="48.2" y="319" font-size="11.5" text-anchor="middle" fill="#111" stroke="#111" stroke-width="0.3">0</text>
<line x1="103.5" y1="305.5" x2="103.5" y2="308" stroke="#5a5a5a" stroke-width="1"/>
<text x="103.5" y="319" font-size="11.5" text-anchor="middle" fill="#111" stroke="#111" stroke-width="0.3">100</text>
<line x1="158.8" y1="305.5" x2="158.8" y2="308" stroke="#5a5a5a" stroke-width="1"/>
<text x="158.8" y="319" font-size="11.5" text-anchor="middle" fill="#111" stroke="#111" stroke-width="0.3">200</text>
<line x1="214.1" y1="305.5" x2="214.1" y2="308" stroke="#5a5a5a" stroke-width="1"/>
<text x="214.1" y="319" font-size="11.5" text-anchor="middle" fill="#111" stroke="#111" stroke-width="0.3">300</text>
<line x1="75.85" y1="305.5" x2="75.85" y2="307" stroke="#5a5a5a" stroke-width="1"/>
<line x1="131.15" y1="305.5" x2="131.15" y2="307" stroke="#5a5a5a" stroke-width="1"/>
<line x1="186.45" y1="305.5" x2="186.45" y2="307" stroke="#5a5a5a" stroke-width="1"/>
<text x="130.5" y="333" font-size="11.5" text-anchor="middle" fill="#111" stroke="#111" stroke-width="0.3">Time (s)</text>
<text x="28.5" y="206.5" font-size="11.5" text-anchor="middle" fill="#111" transform="rotate(-90 28.5 206.5)" stroke="#111" stroke-width="0.3">J (mA cm<tspan dy="-4" font-size="7">-2</tspan><tspan dy="4">)</tspan></text>
<text x="27" y="274.5" font-size="11.5" text-anchor="middle" fill="#111" transform="rotate(-90 27 274.5)" stroke="#111" stroke-width="0.3">PCE (%)</text>
<polyline points="48.2,188.9 53.73,188.99 59.26,189.08 64.79,189.17 70.32,189.26 75.85,189.35 81.38,189.44 86.91,189.53 92.44,189.62 97.97,189.71 103.5,189.8 109.03,189.89 114.56,189.98 120.09,190.07 125.62,190.16 131.15,190.25 136.68,190.34 142.21,190.43 147.74,190.52 153.27,190.61 158.8,190.7 164.33,190.79 169.86,190.88 175.39,190.97 180.92,191.06 186.45,191.15 191.98,191.24 197.51,191.33 203.04,191.42 208.57,191.51 214.1,191.6" fill="none" stroke="#e3262b" stroke-width="1.1" stroke-linejoin="round"/>
<polyline points="48.2,190.5 53.73,190.59 59.26,190.68 64.79,190.77 70.32,190.86 75.85,190.95 81.38,191.04 86.91,191.13 92.44,191.22 97.97,191.31 103.5,191.4 109.03,191.49 114.56,191.58 120.09,191.67 125.62,191.76 131.15,191.85 136.68,191.94 142.21,192.03 147.74,192.12 153.27,192.21 158.8,192.3 164.33,192.39 169.86,192.48 175.39,192.57 180.92,192.66 186.45,192.75 191.98,192.84 197.51,192.93 203.04,193.02 208.57,193.11 214.1,193.2" fill="none" stroke="#111" stroke-width="1.1" stroke-linejoin="round"/>
<circle cx="48.2" cy="188.9" r="1.8" fill="#e3262b" stroke="none" stroke-width="0"/>
<circle cx="53.73" cy="188.99" r="1.8" fill="#e3262b" stroke="none" stroke-width="0"/>
<circle cx="59.26" cy="189.08" r="1.8" fill="#e3262b" stroke="none" stroke-width="0"/>
<circle cx="64.79" cy="189.17" r="1.8" fill="#e3262b" stroke="none" stroke-width="0"/>
<circle cx="70.32" cy="189.26" r="1.8" fill="#e3262b" stroke="none" stroke-width="0"/>
<circle cx="75.85" cy="189.35" r="1.8" fill="#e3262b" stroke="none" stroke-width="0"/>
<circle cx="81.38" cy="189.44" r="1.8" fill="#e3262b" stroke="none" stroke-width="0"/>
<circle cx="86.91" cy="189.53" r="1.8" fill="#e3262b" stroke="none" stroke-width="0"/>
<circle cx="92.44" cy="189.62" r="1.8" fill="#e3262b" stroke="none" stroke-width="0"/>
<circle cx="97.97" cy="189.71" r="1.8" fill="#e3262b" stroke="none" stroke-width="0"/>
<circle cx="103.5" cy="189.8" r="1.8" fill="#e3262b" stroke="none" stroke-width="0"/>
<circle cx="109.03" cy="189.89" r="1.8" fill="#e3262b" stroke="none" stroke-width="0"/>
<circle cx="114.56" cy="189.98" r="1.8" fill="#e3262b" stroke="none" stroke-width="0"/>
<circle cx="120.09" cy="190.07" r="1.8" fill="#e3262b" stroke="none" stroke-width="0"/>
<circle cx="125.62" cy="190.16" r="1.8" fill="#e3262b" stroke="none" stroke-width="0"/>
<circle cx="131.15" cy="190.25" r="1.8" fill="#e3262b" stroke="none" stroke-width="0"/>
<circle cx="136.68" cy="190.34" r="1.8" fill="#e3262b" stroke="none" stroke-width="0"/>
<circle cx="142.21" cy="190.43" r="1.8" fill="#e3262b" stroke="none" stroke-width="0"/>
<circle cx="147.74" cy="190.52" r="1.8" fill="#e3262b" stroke="none" stroke-width="0"/>
<circle cx="153.27" cy="190.61" r="1.8" fill="#e3262b" stroke="none" stroke-width="0"/>
<circle cx="158.8" cy="190.7" r="1.8" fill="#e3262b" stroke="none" stroke-width="0"/>
<circle cx="164.33" cy="190.79" r="1.8" fill="#e3262b" stroke="none" stroke-width="0"/>
<circle cx="169.86" cy="190.88" r="1.8" fill="#e3262b" stroke="none" stroke-width="0"/>
<circle cx="175.39" cy="190.97" r="1.8" fill="#e3262b" stroke="none" stroke-width="0"/>
<circle cx="180.92" cy="191.06" r="1.8" fill="#e3262b" stroke="none" stroke-width="0"/>
<circle cx="186.45" cy="191.15" r="1.8" fill="#e3262b" stroke="none" stroke-width="0"/>
<circle cx="191.98" cy="191.24" r="1.8" fill="#e3262b" stroke="none" stroke-width="0"/>
<circle cx="197.51" cy="191.33" r="1.8" fill="#e3262b" stroke="none" stroke-width="0"/>
<circle cx="203.04" cy="191.42" r="1.8" fill="#e3262b" stroke="none" stroke-width="0"/>
<circle cx="208.57" cy="191.51" r="1.8" fill="#e3262b" stroke="none" stroke-width="0"/>
<circle cx="214.1" cy="191.6" r="1.8" fill="#e3262b" stroke="none" stroke-width="0"/>
<circle cx="48.2" cy="190.5" r="1.8" fill="#111" stroke="none" stroke-width="0"/>
<circle cx="53.73" cy="190.59" r="1.8" fill="#111" stroke="none" stroke-width="0"/>
<circle cx="59.26" cy="190.68" r="1.8" fill="#111" stroke="none" stroke-width="0"/>
<circle cx="64.79" cy="190.77" r="1.8" fill="#111" stroke="none" stroke-width="0"/>
<circle cx="70.32" cy="190.86" r="1.8" fill="#111" stroke="none" stroke-width="0"/>
<circle cx="75.85" cy="190.95" r="1.8" fill="#111" stroke="none" stroke-width="0"/>
<circle cx="81.38" cy="191.04" r="1.8" fill="#111" stroke="none" stroke-width="0"/>
<circle cx="86.91" cy="191.13" r="1.8" fill="#111" stroke="none" stroke-width="0"/>
<circle cx="92.44" cy="191.22" r="1.8" fill="#111" stroke="none" stroke-width="0"/>
<circle cx="97.97" cy="191.31" r="1.8" fill="#111" stroke="none" stroke-width="0"/>
<circle cx="103.5" cy="191.4" r="1.8" fill="#111" stroke="none" stroke-width="0"/>
<circle cx="109.03" cy="191.49" r="1.8" fill="#111" stroke="none" stroke-width="0"/>
<circle cx="114.56" cy="191.58" r="1.8" fill="#111" stroke="none" stroke-width="0"/>
<circle cx="120.09" cy="191.67" r="1.8" fill="#111" stroke="none" stroke-width="0"/>
<circle cx="125.62" cy="191.76" r="1.8" fill="#111" stroke="none" stroke-width="0"/>
<circle cx="131.15" cy="191.85" r="1.8" fill="#111" stroke="none" stroke-width="0"/>
<circle cx="136.68" cy="191.94" r="1.8" fill="#111" stroke="none" stroke-width="0"/>
<circle cx="142.21" cy="192.03" r="1.8" fill="#111" stroke="none" stroke-width="0"/>
<circle cx="147.74" cy="192.12" r="1.8" fill="#111" stroke="none" stroke-width="0"/>
<circle cx="153.27" cy="192.21" r="1.8" fill="#111" stroke="none" stroke-width="0"/>
<circle cx="158.8" cy="192.3" r="1.8" fill="#111" stroke="none" stroke-width="0"/>
<circle cx="164.33" cy="192.39" r="1.8" fill="#111" stroke="none" stroke-width="0"/>
<circle cx="169.86" cy="192.48" r="1.8" fill="#111" stroke="none" stroke-width="0"/>
<circle cx="175.39" cy="192.57" r="1.8" fill="#111" stroke="none" stroke-width="0"/>
<circle cx="180.92" cy="192.66" r="1.8" fill="#111" stroke="none" stroke-width="0"/>
<circle cx="186.45" cy="192.75" r="1.8" fill="#111" stroke="none" stroke-width="0"/>
<circle cx="191.98" cy="192.84" r="1.8" fill="#111" stroke="none" stroke-width="0"/>
<circle cx="197.51" cy="192.93" r="1.8" fill="#111" stroke="none" stroke-width="0"/>
<circle cx="203.04" cy="193.02" r="1.8" fill="#111" stroke="none" stroke-width="0"/>
<circle cx="208.57" cy="193.11" r="1.8" fill="#111" stroke="none" stroke-width="0"/>
<circle cx="214.1" cy="193.2" r="1.8" fill="#111" stroke="none" stroke-width="0"/>
<polyline points="48.2,252.8 53.73,252.88 59.26,252.96 64.79,253.04 70.32,253.12 75.85,253.2 81.38,253.28 86.91,253.36 92.44,253.44 97.97,253.52 103.5,253.6 109.03,253.68 114.56,253.76 120.09,253.84 125.62,253.92 131.15,254 136.68,254.08 142.21,254.16 147.74,254.24 153.27,254.32 158.8,254.4 164.33,254.48 169.86,254.56 175.39,254.64 180.92,254.72 186.45,254.8 191.98,254.88 197.51,254.96 203.04,255.04 208.57,255.12 214.1,255.2" fill="none" stroke="#e3262b" stroke-width="1.0" stroke-linejoin="round"/>
<polyline points="48.2,258.7 53.73,258.76 59.26,258.83 64.79,258.89 70.32,258.95 75.85,259.02 81.38,259.08 86.91,259.14 92.44,259.21 97.97,259.27 103.5,259.33 109.03,259.4 114.56,259.46 120.09,259.52 125.62,259.59 131.15,259.65 136.68,259.71 142.21,259.78 147.74,259.84 153.27,259.9 158.8,259.97 164.33,260.03 169.86,260.09 175.39,260.16 180.92,260.22 186.45,260.28 191.98,260.35 197.51,260.41 203.04,260.47 208.57,260.54 214.1,260.6" fill="none" stroke="#111" stroke-width="1.0" stroke-linejoin="round"/>
<circle cx="48.2" cy="252.8" r="1.7" fill="#fff" stroke="#e3262b" stroke-width="0.8"/>
<circle cx="53.73" cy="252.88" r="1.7" fill="#fff" stroke="#e3262b" stroke-width="0.8"/>
<circle cx="59.26" cy="252.96" r="1.7" fill="#fff" stroke="#e3262b" stroke-width="0.8"/>
<circle cx="64.79" cy="253.04" r="1.7" fill="#fff" stroke="#e3262b" stroke-width="0.8"/>
<circle cx="70.32" cy="253.12" r="1.7" fill="#fff" stroke="#e3262b" stroke-width="0.8"/>
<circle cx="75.85" cy="253.2" r="1.7" fill="#fff" stroke="#e3262b" stroke-width="0.8"/>
<circle cx="81.38" cy="253.28" r="1.7" fill="#fff" stroke="#e3262b" stroke-width="0.8"/>
<circle cx="86.91" cy="253.36" r="1.7" fill="#fff" stroke="#e3262b" stroke-width="0.8"/>
<circle cx="92.44" cy="253.44" r="1.7" fill="#fff" stroke="#e3262b" stroke-width="0.8"/>
<circle cx="97.97" cy="253.52" r="1.7" fill="#fff" stroke="#e3262b" stroke-width="0.8"/>
<circle cx="103.5" cy="253.6" r="1.7" fill="#fff" stroke="#e3262b" stroke-width="0.8"/>
<circle cx="109.03" cy="253.68" r="1.7" fill="#fff" stroke="#e3262b" stroke-width="0.8"/>
<circle cx="114.56" cy="253.76" r="1.7" fill="#fff" stroke="#e3262b" stroke-width="0.8"/>
<circle cx="120.09" cy="253.84" r="1.7" fill="#fff" stroke="#e3262b" stroke-width="0.8"/>
<circle cx="125.62" cy="253.92" r="1.7" fill="#fff" stroke="#e3262b" stroke-width="0.8"/>
<circle cx="131.15" cy="254" r="1.7" fill="#fff" stroke="#e3262b" stroke-width="0.8"/>
<circle cx="136.68" cy="254.08" r="1.7" fill="#fff" stroke="#e3262b" stroke-width="0.8"/>
<circle cx="142.21" cy="254.16" r="1.7" fill="#fff" stroke="#e3262b" stroke-width="0.8"/>
<circle cx="147.74" cy="254.24" r="1.7" fill="#fff" stroke="#e3262b" stroke-width="0.8"/>
<circle cx="153.27" cy="254.32" r="1.7" fill="#fff" stroke="#e3262b" stroke-width="0.8"/>
<circle cx="158.8" cy="254.4" r="1.7" fill="#fff" stroke="#e3262b" stroke-width="0.8"/>
<circle cx="164.33" cy="254.48" r="1.7" fill="#fff" stroke="#e3262b" stroke-width="0.8"/>
<circle cx="169.86" cy="254.56" r="1.7" fill="#fff" stroke="#e3262b" stroke-width="0.8"/>
<circle cx="175.39" cy="254.64" r="1.7" fill="#fff" stroke="#e3262b" stroke-width="0.8"/>
<circle cx="180.92" cy="254.72" r="1.7" fill="#fff" stroke="#e3262b" stroke-width="0.8"/>
<circle cx="186.45" cy="254.8" r="1.7" fill="#fff" stroke="#e3262b" stroke-width="0.8"/>
<circle cx="191.98" cy="254.88" r="1.7" fill="#fff" stroke="#e3262b" stroke-width="0.8"/>
<circle cx="197.51" cy="254.96" r="1.7" fill="#fff" stroke="#e3262b" stroke-width="0.8"/>
<circle cx="203.04" cy="255.04" r="1.7" fill="#fff" stroke="#e3262b" stroke-width="0.8"/>
<circle cx="208.57" cy="255.12" r="1.7" fill="#fff" stroke="#e3262b" stroke-width="0.8"/>
<circle cx="214.1" cy="255.2" r="1.7" fill="#fff" stroke="#e3262b" stroke-width="0.8"/>
<circle cx="48.2" cy="258.7" r="1.7" fill="#fff" stroke="#111" stroke-width="0.8"/>
<circle cx="53.73" cy="258.76" r="1.7" fill="#fff" stroke="#111" stroke-width="0.8"/>
<circle cx="59.26" cy="258.83" r="1.7" fill="#fff" stroke="#111" stroke-width="0.8"/>
<circle cx="64.79" cy="258.89" r="1.7" fill="#fff" stroke="#111" stroke-width="0.8"/>
<circle cx="70.32" cy="258.95" r="1.7" fill="#fff" stroke="#111" stroke-width="0.8"/>
<circle cx="75.85" cy="259.02" r="1.7" fill="#fff" stroke="#111" stroke-width="0.8"/>
<circle cx="81.38" cy="259.08" r="1.7" fill="#fff" stroke="#111" stroke-width="0.8"/>
<circle cx="86.91" cy="259.14" r="1.7" fill="#fff" stroke="#111" stroke-width="0.8"/>
<circle cx="92.44" cy="259.21" r="1.7" fill="#fff" stroke="#111" stroke-width="0.8"/>
<circle cx="97.97" cy="259.27" r="1.7" fill="#fff" stroke="#111" stroke-width="0.8"/>
<circle cx="103.5" cy="259.33" r="1.7" fill="#fff" stroke="#111" stroke-width="0.8"/>
<circle cx="109.03" cy="259.4" r="1.7" fill="#fff" stroke="#111" stroke-width="0.8"/>
<circle cx="114.56" cy="259.46" r="1.7" fill="#fff" stroke="#111" stroke-width="0.8"/>
<circle cx="120.09" cy="259.52" r="1.7" fill="#fff" stroke="#111" stroke-width="0.8"/>
<circle cx="125.62" cy="259.59" r="1.7" fill="#fff" stroke="#111" stroke-width="0.8"/>
<circle cx="131.15" cy="259.65" r="1.7" fill="#fff" stroke="#111" stroke-width="0.8"/>
<circle cx="136.68" cy="259.71" r="1.7" fill="#fff" stroke="#111" stroke-width="0.8"/>
<circle cx="142.21" cy="259.78" r="1.7" fill="#fff" stroke="#111" stroke-width="0.8"/>
<circle cx="147.74" cy="259.84" r="1.7" fill="#fff" stroke="#111" stroke-width="0.8"/>
<circle cx="153.27" cy="259.9" r="1.7" fill="#fff" stroke="#111" stroke-width="0.8"/>
<circle cx="158.8" cy="259.97" r="1.7" fill="#fff" stroke="#111" stroke-width="0.8"/>
<circle cx="164.33" cy="260.03" r="1.7" fill="#fff" stroke="#111" stroke-width="0.8"/>
<circle cx="169.86" cy="260.09" r="1.7" fill="#fff" stroke="#111" stroke-width="0.8"/>
<circle cx="175.39" cy="260.16" r="1.7" fill="#fff" stroke="#111" stroke-width="0.8"/>
<circle cx="180.92" cy="260.22" r="1.7" fill="#fff" stroke="#111" stroke-width="0.8"/>
<circle cx="186.45" cy="260.28" r="1.7" fill="#fff" stroke="#111" stroke-width="0.8"/>
<circle cx="191.98" cy="260.35" r="1.7" fill="#fff" stroke="#111" stroke-width="0.8"/>
<circle cx="197.51" cy="260.41" r="1.7" fill="#fff" stroke="#111" stroke-width="0.8"/>
<circle cx="203.04" cy="260.47" r="1.7" fill="#fff" stroke="#111" stroke-width="0.8"/>
<circle cx="208.57" cy="260.54" r="1.7" fill="#fff" stroke="#111" stroke-width="0.8"/>
<circle cx="214.1" cy="260.6" r="1.7" fill="#fff" stroke="#111" stroke-width="0.8"/>
<line x1="61.8" y1="206.6" x2="71.9" y2="206.6" stroke="#111" stroke-width="1.6"/>
<circle cx="66.8" cy="206.6" r="1.8" fill="#111" stroke="none" stroke-width="0"/>
<text x="73.6" y="209.7" font-size="8.5" text-anchor="start" font-weight="bold" fill="#111" stroke="#111" stroke-width="0.15">Pristine</text>
<line x1="61.8" y1="218" x2="71.9" y2="218" stroke="#e3262b" stroke-width="1.6"/>
<circle cx="66.8" cy="218" r="1.8" fill="#e3262b" stroke="none" stroke-width="0"/>
<text x="73.6" y="221.1" font-size="8.5" text-anchor="start" font-weight="bold" fill="#111" stroke="#111" stroke-width="0.15">2FEABr treated</text>
<line x1="61.4" y1="274.8" x2="72" y2="274.8" stroke="#111" stroke-width="1.1"/>
<circle cx="66.8" cy="274.8" r="1.7" fill="#fff" stroke="#111" stroke-width="0.8"/>
<text x="73.5" y="277.9" font-size="8.5" text-anchor="start" font-weight="bold" fill="#111" stroke="#111" stroke-width="0.15">Pristine</text>
<line x1="61.4" y1="285.5" x2="72" y2="285.5" stroke="#e3262b" stroke-width="1.1"/>
<circle cx="66.8" cy="285.5" r="1.7" fill="#fff" stroke="#e3262b" stroke-width="0.8"/>
<text x="73.5" y="288.6" font-size="8.5" text-anchor="start" font-weight="bold" fill="#111" stroke="#111" stroke-width="0.15">2FEABr treated</text>
<line x1="263.5" y1="177.5" x2="429.5" y2="177.5" stroke="#6a6a6a" stroke-width="1"/>
<line x1="429.5" y1="177.5" x2="429.5" y2="303.5" stroke="#8a8a8a" stroke-width="1"/>
<line x1="263.5" y1="303.5" x2="429.5" y2="303.5" stroke="#5a5a5a" stroke-width="1"/>
<line x1="263.5" y1="177.5" x2="263.5" y2="303.5" stroke="#5a5a5a" stroke-width="1"/>
<text x="224.9" y="182.8" font-size="13.5" text-anchor="start" font-weight="bold" fill="#111" textLength="12.3" lengthAdjust="spacingAndGlyphs" stroke="#111" stroke-width="0.45">(e)</text>
<line x1="260.5" y1="177.5" x2="263.5" y2="177.5" stroke="#5a5a5a" stroke-width="1"/>
<text x="259.5" y="182.4" font-size="11.5" text-anchor="end" fill="#111" stroke="#111" stroke-width="0.3">2.0</text>
<line x1="260.5" y1="207.5" x2="263.5" y2="207.5" stroke="#5a5a5a" stroke-width="1"/>
<text x="259.5" y="212.4" font-size="11.5" text-anchor="end" fill="#111" stroke="#111" stroke-width="0.3">1.5</text>
<line x1="260.5" y1="237.5" x2="263.5" y2="237.5" stroke="#5a5a5a" stroke-width="1"/>
<text x="259.5" y="242.4" font-size="11.5" text-anchor="end" fill="#111" stroke="#111" stroke-width="0.3">1.0</text>
<line x1="260.5" y1="267.5" x2="263.5" y2="267.5" stroke="#5a5a5a" stroke-width="1"/>
<text x="259.5" y="272.4" font-size="11.5" text-anchor="end" fill="#111" stroke="#111" stroke-width="0.3">0.5</text>
<line x1="260.5" y1="297.5" x2="263.5" y2="297.5" stroke="#5a5a5a" stroke-width="1"/>
<text x="259.5" y="302.4" font-size="11.5" text-anchor="end" fill="#111" stroke="#111" stroke-width="0.3">0.0</text>
<line x1="262" y1="192.5" x2="263.5" y2="192.5" stroke="#5a5a5a" stroke-width="1"/>
<line x1="262" y1="222.5" x2="263.5" y2="222.5" stroke="#5a5a5a" stroke-width="1"/>
<line x1="262" y1="252.5" x2="263.5" y2="252.5" stroke="#5a5a5a" stroke-width="1"/>
<line x1="262" y1="282.5" x2="263.5" y2="282.5" stroke="#5a5a5a" stroke-width="1"/>
<line x1="263.5" y1="303.5" x2="263.5" y2="306" stroke="#5a5a5a" stroke-width="1"/>
<text x="263.5" y="319" font-size="11.5" text-anchor="middle" fill="#111" stroke="#111" stroke-width="0.3">0.0</text>
<line x1="291.3" y1="303.5" x2="291.3" y2="306" stroke="#5a5a5a" stroke-width="1"/>
<text x="291.3" y="319" font-size="11.5" text-anchor="middle" fill="#111" stroke="#111" stroke-width="0.3">0.2</text>
<line x1="319.1" y1="303.5" x2="319.1" y2="306" stroke="#5a5a5a" stroke-width="1"/>
<text x="319.1" y="319" font-size="11.5" text-anchor="middle" fill="#111" stroke="#111" stroke-width="0.3">0.4</text>
<line x1="346.9" y1="303.5" x2="346.9" y2="306" stroke="#5a5a5a" stroke-width="1"/>
<text x="346.9" y="319" font-size="11.5" text-anchor="middle" fill="#111" stroke="#111" stroke-width="0.3">0.6</text>
<line x1="374.7" y1="303.5" x2="374.7" y2="306" stroke="#5a5a5a" stroke-width="1"/>
<text x="374.7" y="319" font-size="11.5" text-anchor="middle" fill="#111" stroke="#111" stroke-width="0.3">0.8</text>
<line x1="402.5" y1="303.5" x2="402.5" y2="306" stroke="#5a5a5a" stroke-width="1"/>
<text x="402.5" y="319" font-size="11.5" text-anchor="middle" fill="#111" stroke="#111" stroke-width="0.3">1.0</text>
<line x1="430.3" y1="303.5" x2="430.3" y2="306" stroke="#5a5a5a" stroke-width="1"/>
<text x="430.3" y="319" font-size="11.5" text-anchor="middle" fill="#111" stroke="#111" stroke-width="0.3">1.2</text>
<line x1="277.4" y1="303.5" x2="277.4" y2="305" stroke="#5a5a5a" stroke-width="1"/>
<line x1="305.2" y1="303.5" x2="305.2" y2="305" stroke="#5a5a5a" stroke-width="1"/>
<line x1="333" y1="303.5" x2="333" y2="305" stroke="#5a5a5a" stroke-width="1"/>
<line x1="360.8" y1="303.5" x2="360.8" y2="305" stroke="#5a5a5a" stroke-width="1"/>
<line x1="388.6" y1="303.5" x2="388.6" y2="305" stroke="#5a5a5a" stroke-width="1"/>
<line x1="416.4" y1="303.5" x2="416.4" y2="305" stroke="#5a5a5a" stroke-width="1"/>
<text x="345.6" y="333" font-size="11.5" text-anchor="middle" fill="#111" stroke="#111" stroke-width="0.3">Voltage (V)</text>
<text x="238" y="240" font-size="11.5" text-anchor="middle" fill="#111" transform="rotate(-90 238 240)" stroke="#111" stroke-width="0.3">1/C<tspan dy="-4" font-size="7">2</tspan><tspan dy="4"> (×10</tspan><tspan dy="-4" font-size="7">16</tspan><tspan dy="4">F</tspan><tspan dy="-4" font-size="7">-2</tspan><tspan dy="4">)</tspan></text>
<polyline points="263.3,198 264.06,198.1 264.82,198.21 265.58,198.31 266.34,198.42 267.11,198.52 267.87,198.62 268.63,198.72 269.39,198.82 270.15,198.92 270.91,199.02 271.67,199.12 272.43,199.22 273.2,199.31 273.96,199.41 274.72,199.51 275.48,199.6 276.24,199.69 277,199.79 277.76,199.88 278.52,199.97 279.28,200.06 280.05,200.15 280.81,200.23 281.57,200.32 282.33,200.41 283.09,200.49 283.85,200.57 284.61,200.65 285.37,200.73 286.14,200.81 286.9,200.89 287.66,200.97 288.42,201.04 289.18,201.12 289.94,201.19 290.7,201.26 291.46,201.33 292.23,201.4 292.99,201.46 293.75,201.53 294.51,201.59 295.27,201.65 296.03,201.71 296.79,201.77 297.55,201.83 298.31,201.88 299.08,201.94 299.84,201.99 300.6,202.04 301.36,202.09 302.12,202.13 302.88,202.18 303.64,202.22 304.4,202.26 305.17,202.3 305.93,202.34 306.69,202.38 307.45,202.42 308.21,202.45 308.97,202.48 309.73,202.52 310.49,202.55 311.25,202.58 312.02,202.61 312.78,202.64 313.54,202.67 314.3,202.7 315.06,202.73 315.82,202.75 316.58,202.78 317.34,202.81 318.11,202.83 318.87,202.86 319.63,202.89 320.39,202.91 321.15,202.94 321.91,202.97 322.67,202.99 323.43,203.02 324.19,203.05 324.96,203.07 325.72,203.1 326.48,203.13 327.24,203.16 328,203.19 328.76,203.22 329.52,203.25 330.28,203.28 331.05,203.32 331.81,203.35 332.57,203.38 333.33,203.42 334.09,203.46 334.85,203.5 335.61,203.54 336.37,203.58 337.14,203.62 337.9,203.66 338.66,203.71 339.42,203.76 340.18,203.81 340.94,203.86 341.7,203.91 342.46,203.97 343.22,204.02 343.99,204.09 344.75,204.15 345.51,204.22 346.27,204.3 347.03,204.38 347.79,204.47 348.55,204.56 349.31,204.66 350.08,204.76 350.84,204.87 351.6,204.99 352.36,205.11 353.12,205.24 353.88,205.38 354.64,205.53 355.4,205.7 356.16,205.91 356.93,206.15 357.69,206.41 358.45,206.69 359.21,206.98 359.97,207.27 360.73,207.57 361.49,207.87 362.25,208.18 363.02,208.51 363.78,208.85 364.54,209.23 365.3,209.63 366.06,210.08 366.82,210.58 367.58,211.15 368.34,211.79 369.11,212.47 369.87,213.19 370.63,213.94 371.39,214.69 372.15,215.43 372.91,216.17 373.67,216.93 374.43,217.74 375.19,218.62 375.96,219.6 376.72,220.69 377.48,221.96 378.24,223.53 379,225.39 379.76,227.47 380.52,229.73 381.28,232.11 382.05,234.56 382.81,237.02 383.57,239.58 384.33,242.32 385.09,245.2 385.85,248.21 386.61,251.29 387.37,254.41 388.13,257.54 388.9,260.87 389.66,264.46 390.42,268.19 391.18,271.91 391.94,275.49 392.7,278.8 393.46,281.69 394.22,284.05 394.99,286.23 395.75,288.33 396.51,290.27 397.27,292 398.03,293.46 398.79,294.58 399.55,295.32 400.31,295.9 401.07,296.42 401.84,296.89 402.6,297.27 403.36,297.57 404.12,297.75 404.88,297.8 405.64,297.8 406.4,297.8 407.16,297.8 407.93,297.8 408.69,297.8 409.45,297.8 410.21,297.8 410.97,297.8 411.73,297.8 412.49,297.8 413.25,297.8 414.02,297.8 414.78,297.8 415.54,297.8 416.3,297.8 417.06,297.8 417.82,297.8 418.58,297.8 419.34,297.8 420.1,297.8 420.87,297.8 421.63,297.8 422.39,297.8 423.15,297.8 423.91,297.8 424.67,297.8 425.43,297.8 426.19,297.8 426.96,297.8 427.72,297.8 428.48,297.8 429.24,297.8 430,297.8" fill="none" stroke="#e3262b" stroke-width="1.4" stroke-linejoin="round"/>
<polyline points="263.3,223.5 264.06,223.54 264.82,223.57 265.58,223.61 266.34,223.65 267.11,223.69 267.87,223.72 268.63,223.76 269.39,223.8 270.15,223.84 270.91,223.88 271.67,223.91 272.43,223.95 273.2,223.99 273.96,224.03 274.72,224.07 275.48,224.11 276.24,224.15 277,224.19 277.76,224.23 278.52,224.27 279.28,224.31 280.05,224.36 280.81,224.4 281.57,224.44 282.33,224.48 283.09,224.52 283.85,224.56 284.61,224.61 285.37,224.65 286.14,224.69 286.9,224.73 287.66,224.78 288.42,224.82 289.18,224.86 289.94,224.91 290.7,224.95 291.46,224.99 292.23,225.04 292.99,225.08 293.75,225.13 294.51,225.17 295.27,225.22 296.03,225.26 296.79,225.31 297.55,225.35 298.31,225.4 299.08,225.44 299.84,225.49 300.6,225.54 301.36,225.58 302.12,225.62 302.88,225.66 303.64,225.71 304.4,225.75 305.17,225.78 305.93,225.82 306.69,225.86 307.45,225.9 308.21,225.93 308.97,225.97 309.73,226 310.49,226.04 311.25,226.07 312.02,226.11 312.78,226.14 313.54,226.18 314.3,226.21 315.06,226.25 315.82,226.28 316.58,226.32 317.34,226.36 318.11,226.39 318.87,226.43 319.63,226.47 320.39,226.51 321.15,226.55 321.91,226.59 322.67,226.64 323.43,226.68 324.19,226.73 324.96,226.78 325.72,226.83 326.48,226.88 327.24,226.93 328,226.98 328.76,227.04 329.52,227.1 330.28,227.16 331.05,227.22 331.81,227.29 332.57,227.36 333.33,227.43 334.09,227.5 334.85,227.58 335.61,227.66 336.37,227.74 337.14,227.82 337.9,227.91 338.66,228 339.42,228.09 340.18,228.19 340.94,228.29 341.7,228.41 342.46,228.58 343.22,228.78 343.99,229.01 344.75,229.28 345.51,229.57 346.27,229.88 347.03,230.22 347.79,230.57 348.55,230.94 349.31,231.31 350.08,231.69 350.84,232.07 351.6,232.46 352.36,232.88 353.12,233.31 353.88,233.78 354.64,234.27 355.4,234.79 356.16,235.34 356.93,235.93 357.69,236.56 358.45,237.22 359.21,237.92 359.97,238.67 360.73,239.49 361.49,240.41 362.25,241.42 363.02,242.54 363.78,243.76 364.54,245.09 365.3,246.51 366.06,248.04 366.82,249.67 367.58,251.66 368.34,254.05 369.11,256.68 369.87,259.42 370.63,262.13 371.39,264.66 372.15,267.08 372.91,269.53 373.67,271.97 374.43,274.38 375.19,276.73 375.96,279 376.72,281.17 377.48,283.2 378.24,285.25 379,287.35 379.76,289.41 380.52,291.31 381.28,292.95 382.05,294.25 382.81,295.09 383.57,295.72 384.33,296.3 385.09,296.81 385.85,297.24 386.61,297.55 387.37,297.75 388.13,297.8 388.9,297.8 389.66,297.8 390.42,297.8 391.18,297.8 391.94,297.8 392.7,297.8 393.46,297.8 394.22,297.8 394.99,297.8 395.75,297.8 396.51,297.8 397.27,297.8 398.03,297.8 398.79,297.8 399.55,297.8" fill="none" stroke="#111" stroke-width="1.4" stroke-linejoin="round"/>
<circle cx="266.28" cy="198.41" r="1.8" fill="#e3262b" stroke="none" stroke-width="0"/>
<circle cx="271.84" cy="199.14" r="1.8" fill="#e3262b" stroke="none" stroke-width="0"/>
<circle cx="277.4" cy="199.83" r="1.8" fill="#e3262b" stroke="none" stroke-width="0"/>
<circle cx="282.96" cy="200.47" r="1.8" fill="#e3262b" stroke="none" stroke-width="0"/>
<circle cx="288.52" cy="201.05" r="1.8" fill="#e3262b" stroke="none" stroke-width="0"/>
<circle cx="294.08" cy="201.56" r="1.8" fill="#e3262b" stroke="none" stroke-width="0"/>
<circle cx="299.64" cy="201.98" r="1.8" fill="#e3262b" stroke="none" stroke-width="0"/>
<circle cx="305.2" cy="202.3" r="1.8" fill="#e3262b" stroke="none" stroke-width="0"/>
<circle cx="310.76" cy="202.56" r="1.8" fill="#e3262b" stroke="none" stroke-width="0"/>
<circle cx="316.32" cy="202.77" r="1.8" fill="#e3262b" stroke="none" stroke-width="0"/>
<circle cx="321.88" cy="202.96" r="1.8" fill="#e3262b" stroke="none" stroke-width="0"/>
<circle cx="327.44" cy="203.17" r="1.8" fill="#e3262b" stroke="none" stroke-width="0"/>
<circle cx="333" cy="203.4" r="1.8" fill="#e3262b" stroke="none" stroke-width="0"/>
<circle cx="338.56" cy="203.7" r="1.8" fill="#e3262b" stroke="none" stroke-width="0"/>
<circle cx="344.12" cy="204.1" r="1.8" fill="#e3262b" stroke="none" stroke-width="0"/>
<circle cx="349.68" cy="204.71" r="1.8" fill="#e3262b" stroke="none" stroke-width="0"/>
<circle cx="355.24" cy="205.66" r="1.8" fill="#e3262b" stroke="none" stroke-width="0"/>
<circle cx="360.8" cy="207.59" r="1.8" fill="#e3262b" stroke="none" stroke-width="0"/>
<circle cx="366.36" cy="210.26" r="1.8" fill="#e3262b" stroke="none" stroke-width="0"/>
<circle cx="371.92" cy="215.2" r="1.8" fill="#e3262b" stroke="none" stroke-width="0"/>
<circle cx="377.48" cy="221.96" r="1.8" fill="#e3262b" stroke="none" stroke-width="0"/>
<circle cx="383.04" cy="237.78" r="1.8" fill="#e3262b" stroke="none" stroke-width="0"/>
<circle cx="388.6" cy="259.53" r="1.8" fill="#e3262b" stroke="none" stroke-width="0"/>
<circle cx="394.16" cy="283.86" r="1.8" fill="#e3262b" stroke="none" stroke-width="0"/>
<circle cx="399.72" cy="295.45" r="1.8" fill="#e3262b" stroke="none" stroke-width="0"/>
<circle cx="405.28" cy="297.8" r="1.8" fill="#e3262b" stroke="none" stroke-width="0"/>
<circle cx="410.84" cy="297.8" r="1.8" fill="#e3262b" stroke="none" stroke-width="0"/>
<circle cx="416.4" cy="297.8" r="1.8" fill="#e3262b" stroke="none" stroke-width="0"/>
<circle cx="421.96" cy="297.8" r="1.8" fill="#e3262b" stroke="none" stroke-width="0"/>
<circle cx="427.52" cy="297.8" r="1.8" fill="#e3262b" stroke="none" stroke-width="0"/>
<circle cx="266.28" cy="223.64" r="1.8" fill="#111" stroke="none" stroke-width="0"/>
<circle cx="271.84" cy="223.92" r="1.8" fill="#111" stroke="none" stroke-width="0"/>
<circle cx="277.4" cy="224.21" r="1.8" fill="#111" stroke="none" stroke-width="0"/>
<circle cx="282.96" cy="224.51" r="1.8" fill="#111" stroke="none" stroke-width="0"/>
<circle cx="288.52" cy="224.83" r="1.8" fill="#111" stroke="none" stroke-width="0"/>
<circle cx="294.08" cy="225.15" r="1.8" fill="#111" stroke="none" stroke-width="0"/>
<circle cx="299.64" cy="225.48" r="1.8" fill="#111" stroke="none" stroke-width="0"/>
<circle cx="305.2" cy="225.79" r="1.8" fill="#111" stroke="none" stroke-width="0"/>
<circle cx="310.76" cy="226.05" r="1.8" fill="#111" stroke="none" stroke-width="0"/>
<circle cx="316.32" cy="226.31" r="1.8" fill="#111" stroke="none" stroke-width="0"/>
<circle cx="321.88" cy="226.59" r="1.8" fill="#111" stroke="none" stroke-width="0"/>
<circle cx="327.44" cy="226.94" r="1.8" fill="#111" stroke="none" stroke-width="0"/>
<circle cx="333" cy="227.4" r="1.8" fill="#111" stroke="none" stroke-width="0"/>
<circle cx="338.56" cy="227.99" r="1.8" fill="#111" stroke="none" stroke-width="0"/>
<circle cx="344.12" cy="229.06" r="1.8" fill="#111" stroke="none" stroke-width="0"/>
<circle cx="349.68" cy="231.49" r="1.8" fill="#111" stroke="none" stroke-width="0"/>
<circle cx="355.24" cy="234.68" r="1.8" fill="#111" stroke="none" stroke-width="0"/>
<circle cx="360.8" cy="239.57" r="1.8" fill="#111" stroke="none" stroke-width="0"/>
<circle cx="366.36" cy="248.67" r="1.8" fill="#111" stroke="none" stroke-width="0"/>
<circle cx="371.92" cy="266.35" r="1.8" fill="#111" stroke="none" stroke-width="0"/>
<circle cx="377.48" cy="283.21" r="1.8" fill="#111" stroke="none" stroke-width="0"/>
<circle cx="383.04" cy="295.29" r="1.8" fill="#111" stroke="none" stroke-width="0"/>
<circle cx="388.6" cy="297.8" r="1.8" fill="#1a2a55" stroke="none" stroke-width="0"/>
<circle cx="394.16" cy="297.8" r="1.8" fill="#1a2a55" stroke="none" stroke-width="0"/>
<line x1="365.6" y1="244" x2="382.5" y2="301.5" stroke="#3050a0" stroke-width="1.3"/>
<line x1="382.3" y1="232.5" x2="397.7" y2="301.4" stroke="#3050a0" stroke-width="1.3"/>
<line x1="374.6" y1="297.8" x2="411" y2="297.8" stroke="#3050a0" stroke-width="1.2"/>
<line x1="353.1" y1="188.1" x2="367" y2="188.1" stroke="#111" stroke-width="1.6"/>
<circle cx="360" cy="188.1" r="1.8" fill="#111" stroke="none" stroke-width="0"/>
<text x="368.6" y="190.4" font-size="7.8" text-anchor="start" font-weight="bold" fill="#111" stroke="#111" stroke-width="0.15">Pristine</text>
<line x1="353.1" y1="198.6" x2="367" y2="198.6" stroke="#e3262b" stroke-width="1.6"/>
<circle cx="360" cy="198.6" r="1.8" fill="#e3262b" stroke="none" stroke-width="0"/>
<text x="368.6" y="200.9" font-size="7.8" text-anchor="start" font-weight="bold" fill="#111" stroke="#111" stroke-width="0.15">2FEABr treated</text>
<text x="342.7" y="289.8" font-size="8.5" text-anchor="start" font-weight="bold" fill="#111" stroke="#111" stroke-width="0.15">0.85 V</text>
<text x="397.5" y="276.5" font-size="8.5" text-anchor="start" font-weight="bold" fill="#e3262b" stroke="#e3262b" stroke-width="0.15">0.96 V</text>
<line x1="381.4" y1="296.7" x2="370.7" y2="291.4" stroke="#111" stroke-width="0.9"/>
<path d="M370.7 291.4L374.2 291.36L372.79 294.21Z" fill="#111"/>
<line x1="397.7" y1="295.4" x2="405.4" y2="279.4" stroke="#111" stroke-width="0.9"/>
<path d="M405.4 279.4L405.48 282.9L402.62 281.52Z" fill="#111"/>
<line x1="510.5" y1="177.5" x2="675.5" y2="177.5" stroke="#6a6a6a" stroke-width="1"/>
<line x1="675.5" y1="177.5" x2="675.5" y2="304.5" stroke="#8a8a8a" stroke-width="1"/>
<line x1="510.5" y1="304.5" x2="675.5" y2="304.5" stroke="#5a5a5a" stroke-width="1"/>
<line x1="510.5" y1="177.5" x2="510.5" y2="304.5" stroke="#5a5a5a" stroke-width="1"/>
<text x="469.2" y="182" font-size="13.5" text-anchor="start" font-weight="bold" fill="#111" textLength="10.8" lengthAdjust="spacingAndGlyphs" stroke="#111" stroke-width="0.45">(f)</text>
<line x1="507.5" y1="177.5" x2="510.5" y2="177.5" stroke="#5a5a5a" stroke-width="1"/>
<text x="506" y="182.4" font-size="11.5" text-anchor="end" fill="#111" stroke="#111" stroke-width="0.3">1.20</text>
<line x1="507.5" y1="202.55" x2="510.5" y2="202.55" stroke="#5a5a5a" stroke-width="1"/>
<text x="506" y="207.45" font-size="11.5" text-anchor="end" fill="#111" stroke="#111" stroke-width="0.3">1.15</text>
<line x1="507.5" y1="227.6" x2="510.5" y2="227.6" stroke="#5a5a5a" stroke-width="1"/>
<text x="506" y="232.5" font-size="11.5" text-anchor="end" fill="#111" stroke="#111" stroke-width="0.3">1.10</text>
<line x1="507.5" y1="252.65" x2="510.5" y2="252.65" stroke="#5a5a5a" stroke-width="1"/>
<text x="506" y="257.55" font-size="11.5" text-anchor="end" fill="#111" stroke="#111" stroke-width="0.3">1.05</text>
<line x1="507.5" y1="277.7" x2="510.5" y2="277.7" stroke="#5a5a5a" stroke-width="1"/>
<text x="506" y="282.6" font-size="11.5" text-anchor="end" fill="#111" stroke="#111" stroke-width="0.3">1.00</text>
<line x1="507.5" y1="302.75" x2="510.5" y2="302.75" stroke="#5a5a5a" stroke-width="1"/>
<text x="506" y="307.65" font-size="11.5" text-anchor="end" fill="#111" stroke="#111" stroke-width="0.3">0.95</text>
<line x1="509" y1="190.03" x2="510.5" y2="190.03" stroke="#5a5a5a" stroke-width="1"/>
<line x1="509" y1="215.07" x2="510.5" y2="215.07" stroke="#5a5a5a" stroke-width="1"/>
<line x1="509" y1="240.12" x2="510.5" y2="240.12" stroke="#5a5a5a" stroke-width="1"/>
<line x1="509" y1="265.18" x2="510.5" y2="265.18" stroke="#5a5a5a" stroke-width="1"/>
<line x1="509" y1="290.23" x2="510.5" y2="290.23" stroke="#5a5a5a" stroke-width="1"/>
<text x="538.3" y="318.8" font-size="11.5" text-anchor="middle" fill="#111" stroke="#111" stroke-width="0.3">10</text>
<text x="666" y="318.8" font-size="11.5" text-anchor="middle" fill="#111" stroke="#111" stroke-width="0.3">100</text>
<line x1="518.52" y1="304.5" x2="518.52" y2="306" stroke="#5a5a5a" stroke-width="1"/>
<line x1="525.92" y1="304.5" x2="525.92" y2="306" stroke="#5a5a5a" stroke-width="1"/>
<line x1="532.46" y1="304.5" x2="532.46" y2="306" stroke="#5a5a5a" stroke-width="1"/>
<line x1="538.3" y1="304.5" x2="538.3" y2="307" stroke="#5a5a5a" stroke-width="1"/>
<line x1="576.74" y1="304.5" x2="576.74" y2="306" stroke="#5a5a5a" stroke-width="1"/>
<line x1="599.23" y1="304.5" x2="599.23" y2="306" stroke="#5a5a5a" stroke-width="1"/>
<line x1="615.18" y1="304.5" x2="615.18" y2="306" stroke="#5a5a5a" stroke-width="1"/>
<line x1="627.56" y1="304.5" x2="627.56" y2="306" stroke="#5a5a5a" stroke-width="1"/>
<line x1="637.67" y1="304.5" x2="637.67" y2="306" stroke="#5a5a5a" stroke-width="1"/>
<line x1="646.22" y1="304.5" x2="646.22" y2="306" stroke="#5a5a5a" stroke-width="1"/>
<line x1="653.62" y1="304.5" x2="653.62" y2="306" stroke="#5a5a5a" stroke-width="1"/>
<line x1="660.16" y1="304.5" x2="660.16" y2="306" stroke="#5a5a5a" stroke-width="1"/>
<line x1="666" y1="304.5" x2="666" y2="307" stroke="#5a5a5a" stroke-width="1"/>
<text x="597" y="332" font-size="11.5" text-anchor="middle" fill="#111" stroke="#111" stroke-width="0.3">Light intensity (mW cm<tspan dy="-4" font-size="7">-2</tspan><tspan dy="4">)</tspan></text>
<text x="479.5" y="238" font-size="11.5" text-anchor="middle" fill="#111" transform="rotate(-90 479.5 238)" stroke="#111" stroke-width="0.3">V<tspan dy="2.5" font-size="7.5">OC</tspan><tspan dy="-2.5"> (V)</tspan></text>
<line x1="528.7" y1="237" x2="672" y2="192" stroke="#e3262b" stroke-width="1.5"/>
<line x1="530.9" y1="279.9" x2="672" y2="223.8" stroke="#111" stroke-width="1.5"/>
<circle cx="538.3" cy="234.3" r="1.9" fill="#e3262b" stroke="none" stroke-width="0"/>
<circle cx="576.74" cy="220.7" r="1.9" fill="#e3262b" stroke="none" stroke-width="0"/>
<circle cx="599.23" cy="214.4" r="1.9" fill="#e3262b" stroke="none" stroke-width="0"/>
<circle cx="615.18" cy="209.2" r="1.9" fill="#e3262b" stroke="none" stroke-width="0"/>
<circle cx="627.56" cy="206.1" r="1.9" fill="#e3262b" stroke="none" stroke-width="0"/>
<circle cx="637.67" cy="203" r="1.9" fill="#e3262b" stroke="none" stroke-width="0"/>
<circle cx="646.22" cy="200.9" r="1.9" fill="#e3262b" stroke="none" stroke-width="0"/>
<circle cx="653.62" cy="197.4" r="1.9" fill="#e3262b" stroke="none" stroke-width="0"/>
<circle cx="660.16" cy="195.7" r="1.9" fill="#e3262b" stroke="none" stroke-width="0"/>
<circle cx="666" cy="193.7" r="1.9" fill="#e3262b" stroke="none" stroke-width="0"/>
<circle cx="538.3" cy="275.6" r="1.9" fill="#111" stroke="none" stroke-width="0"/>
<circle cx="576.74" cy="260.4" r="1.9" fill="#111" stroke="none" stroke-width="0"/>
<circle cx="599.23" cy="251.9" r="1.9" fill="#111" stroke="none" stroke-width="0"/>
<circle cx="615.18" cy="246.2" r="1.9" fill="#111" stroke="none" stroke-width="0"/>
<circle cx="627.56" cy="241.8" r="1.9" fill="#111" stroke="none" stroke-width="0"/>
<circle cx="637.67" cy="237.2" r="1.9" fill="#111" stroke="none" stroke-width="0"/>
<circle cx="646.22" cy="235.2" r="1.9" fill="#111" stroke="none" stroke-width="0"/>
<circle cx="653.62" cy="231.4" r="1.9" fill="#111" stroke="none" stroke-width="0"/>
<circle cx="660.16" cy="228.5" r="1.9" fill="#111" stroke="none" stroke-width="0"/>
<circle cx="666" cy="225.8" r="1.9" fill="#111" stroke="none" stroke-width="0"/>
<circle cx="526.2" cy="188.5" r="1.9" fill="#111" stroke="none" stroke-width="0"/>
<circle cx="526.2" cy="198.9" r="1.9" fill="#e3262b" stroke="none" stroke-width="0"/>
<text x="530.8" y="191.6" font-size="8.5" text-anchor="start" font-weight="bold" fill="#111" stroke="#111" stroke-width="0.15">Pristine</text>
<text x="530.8" y="202" font-size="8.5" text-anchor="start" font-weight="bold" fill="#111" stroke="#111" stroke-width="0.15">2FEABr treated</text>
<text x="563" y="214.5" font-size="8.5" text-anchor="start" font-weight="bold" fill="#e3262b" stroke="#e3262b" stroke-width="0.15">n = 1.32</text>
<text x="565.1" y="249.7" font-size="8.5" text-anchor="start" font-weight="bold" fill="#111" stroke="#111" stroke-width="0.15">n = 1.66</text>
</svg></body></html>
